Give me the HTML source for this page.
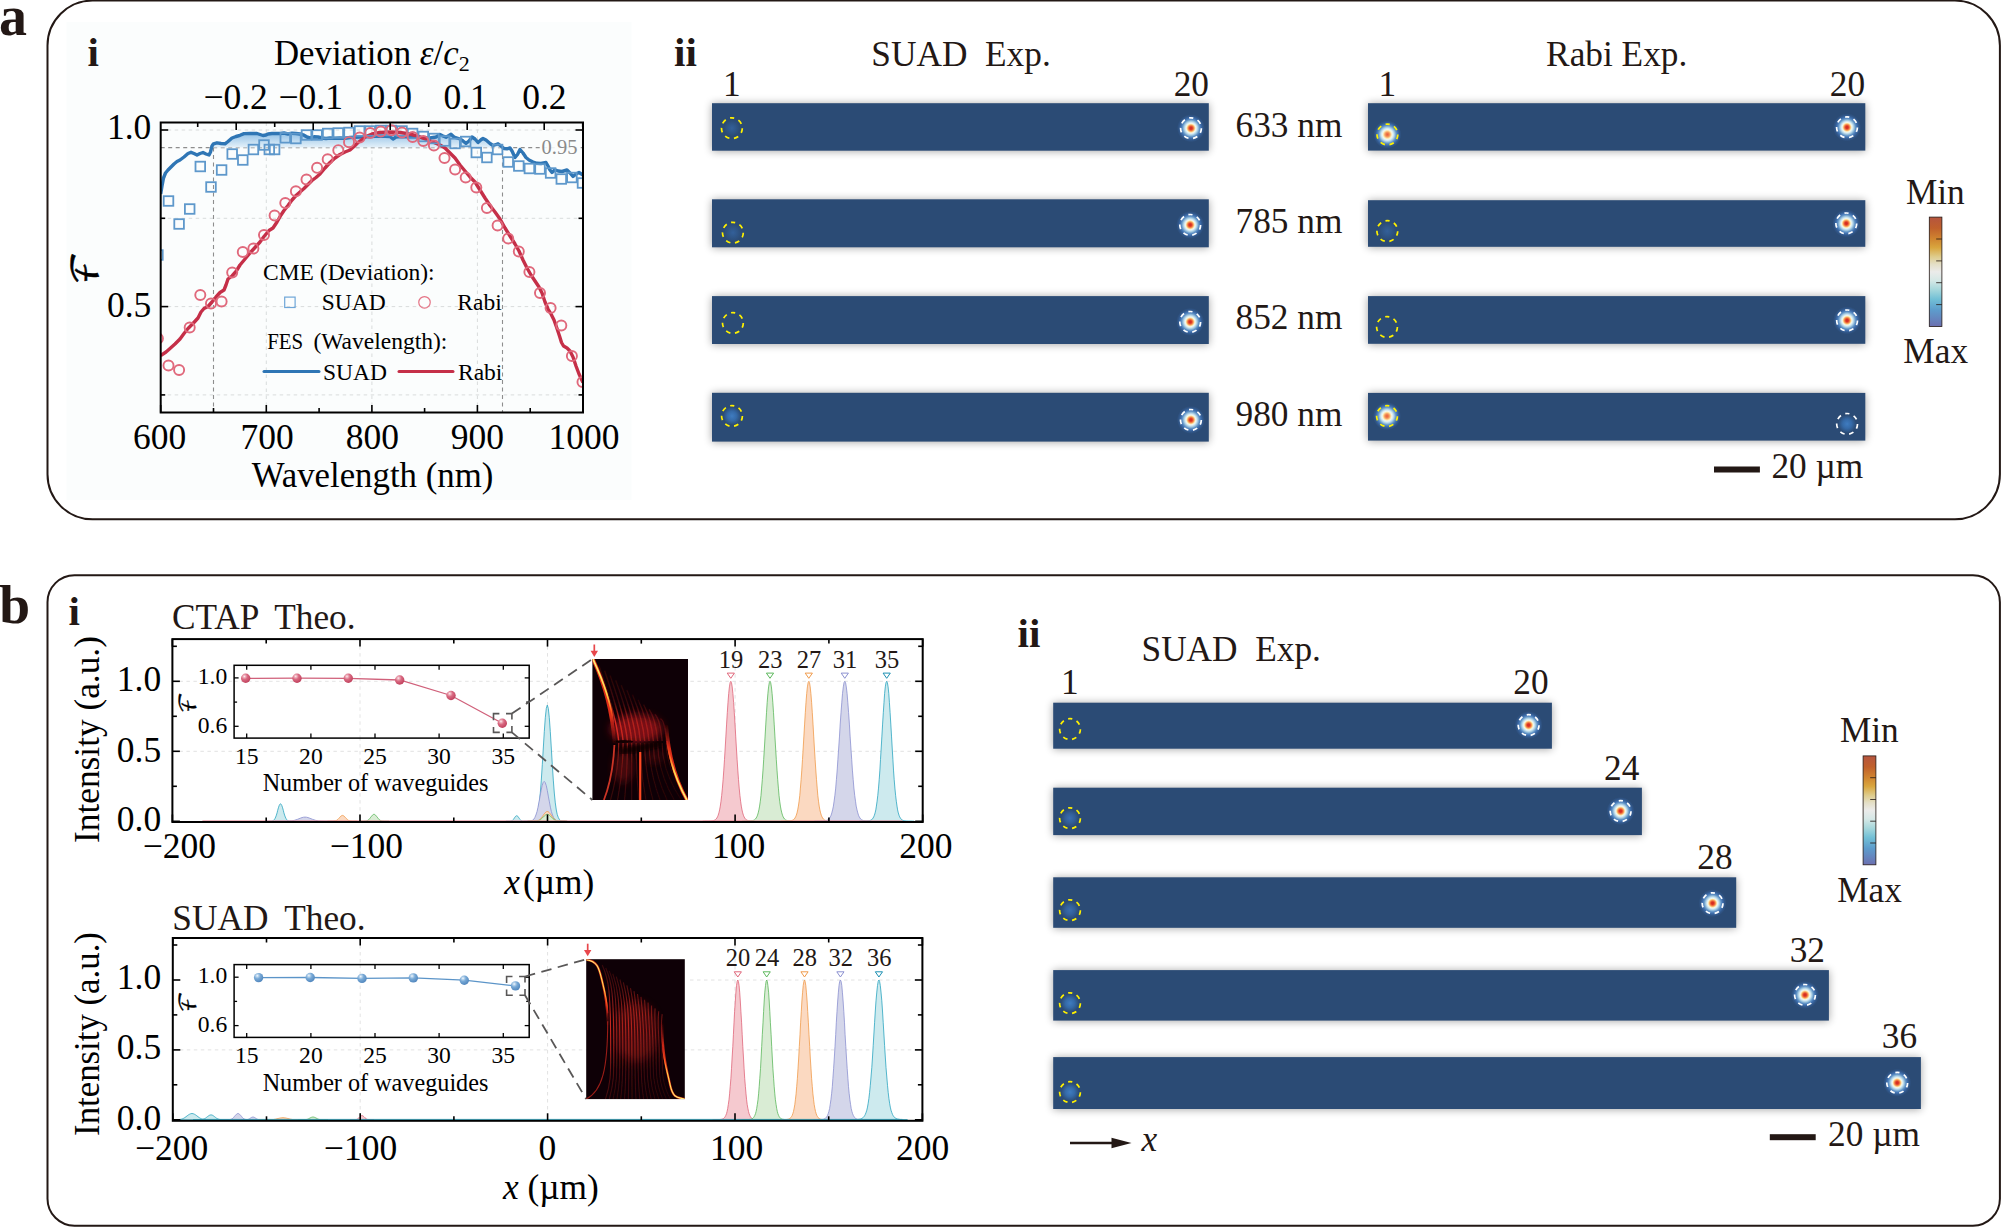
<!DOCTYPE html>
<html><head><meta charset="utf-8"><title>figure</title>
<style>html,body{margin:0;padding:0;background:#fff}svg{display:block}text{font-family:"Liberation Serif", "DejaVu Serif", serif;}</style>
</head><body>
<svg width="2001" height="1227" viewBox="0 0 2001 1227">
<defs>
<filter id="sh" x="-5%" y="-50%" width="110%" height="200%"><feGaussianBlur stdDeviation="4.5"/></filter>
<filter id="b1" x="-20%" y="-20%" width="140%" height="140%"><feGaussianBlur stdDeviation="0.7"/></filter>
<filter id="b2" x="-20%" y="-20%" width="140%" height="140%"><feGaussianBlur stdDeviation="1.6"/></filter>
<filter id="b3" x="-30%" y="-30%" width="160%" height="160%"><feGaussianBlur stdDeviation="4"/></filter>
<radialGradient id="spot"><stop offset="0" stop-color="#d32a22"/><stop offset="0.086" stop-color="#d83324"/><stop offset="0.157" stop-color="#ec6338"/><stop offset="0.229" stop-color="#f9a860"/><stop offset="0.286" stop-color="#fde2a4"/><stop offset="0.343" stop-color="#f1f7ec"/><stop offset="0.414" stop-color="#d3e8f1"/><stop offset="0.5" stop-color="#a0c8e1"/><stop offset="0.607" stop-color="#6294c7"/><stop offset="0.714" stop-color="#4071b0"/><stop offset="0.857" stop-color="#31578a"/><stop offset="1" stop-color="#2b4b75"/></radialGradient>
<radialGradient id="spot2"><stop offset="0" stop-color="#e8603f"/><stop offset="0.1" stop-color="#ee7a4a"/><stop offset="0.19" stop-color="#f7a868"/><stop offset="0.27" stop-color="#fde2a4"/><stop offset="0.343" stop-color="#f1f7ec"/><stop offset="0.43" stop-color="#d3e8f1"/><stop offset="0.52" stop-color="#a0c8e1"/><stop offset="0.63" stop-color="#6294c7"/><stop offset="0.74" stop-color="#4071b0"/><stop offset="0.87" stop-color="#31578a"/><stop offset="1" stop-color="#2b4b75"/></radialGradient>
<radialGradient id="glowA"><stop offset="0" stop-color="#3f7cc0"/><stop offset="0.5" stop-color="#356aa8"/><stop offset="1" stop-color="#2b4b75"/></radialGradient>
<radialGradient id="glowC"><stop offset="0" stop-color="#3a6eb0"/><stop offset="0.5" stop-color="#33609a"/><stop offset="1" stop-color="#2b4b75"/></radialGradient>
<radialGradient id="glowB"><stop offset="0" stop-color="#33609a"/><stop offset="0.5" stop-color="#2f5688"/><stop offset="1" stop-color="#2b4b75"/></radialGradient>
<linearGradient id="cbar" x1="0" y1="0" x2="0" y2="1"><stop offset="0" stop-color="#b5553f"/><stop offset="0.1" stop-color="#c0602c"/><stop offset="0.2" stop-color="#d08530"/><stop offset="0.28" stop-color="#d9a63e"/><stop offset="0.36" stop-color="#decb8a"/><stop offset="0.43" stop-color="#e4dfc6"/><stop offset="0.5" stop-color="#ebebea"/><stop offset="0.58" stop-color="#d5e8e6"/><stop offset="0.66" stop-color="#a8d8dc"/><stop offset="0.75" stop-color="#72c0d6"/><stop offset="0.85" stop-color="#5d9ccc"/><stop offset="0.93" stop-color="#6585be"/><stop offset="1" stop-color="#6c6fb0"/></linearGradient>
<linearGradient id="shade" x1="0" y1="130" x2="0" y2="148" gradientUnits="userSpaceOnUse"><stop offset="0" stop-color="#7fb6e2"/><stop offset="1" stop-color="#e8f3fa"/></linearGradient>
<radialGradient id="ballR" cx="0.36" cy="0.3" r="0.72"><stop offset="0" stop-color="#fdeff2"/><stop offset="0.18" stop-color="#eeb0bc"/><stop offset="0.45" stop-color="#d96a82"/><stop offset="1" stop-color="#c0405c"/></radialGradient>
<radialGradient id="ballB" cx="0.36" cy="0.3" r="0.72"><stop offset="0" stop-color="#f4f9fd"/><stop offset="0.18" stop-color="#b9d4ec"/><stop offset="0.45" stop-color="#78a9d6"/><stop offset="1" stop-color="#5186bd"/></radialGradient>
<linearGradient id="haloA" x1="0" y1="0" x2="0" y2="1"><stop offset="0" stop-color="#ff3a1a"/><stop offset="0.7" stop-color="#f0301a"/><stop offset="1" stop-color="#c01c18" stop-opacity="0.1"/></linearGradient>
<linearGradient id="haloB" x1="0" y1="0" x2="0" y2="1"><stop offset="0" stop-color="#c01c18" stop-opacity="0.1"/><stop offset="0.3" stop-color="#f0301a"/><stop offset="1" stop-color="#ff3a1a"/></linearGradient>
<linearGradient id="hotA" x1="0" y1="0" x2="0" y2="1"><stop offset="0" stop-color="#fff27a"/><stop offset="0.55" stop-color="#ffd84a"/><stop offset="0.8" stop-color="#ff5a1e"/><stop offset="1" stop-color="#b01818"/></linearGradient>
<linearGradient id="hotB" x1="0" y1="0" x2="0" y2="1"><stop offset="0" stop-color="#c01c18"/><stop offset="0.25" stop-color="#ff5a1e"/><stop offset="0.5" stop-color="#ffd84a"/><stop offset="1" stop-color="#fff27a"/></linearGradient>
</defs>
<rect width="2001" height="1227" fill="#fff"/>
<rect x="47.5" y="0.6" width="1952.4" height="518.7" rx="45" ry="45" fill="none" stroke="#231815" stroke-width="2"/>
<rect x="47.5" y="575.2" width="1952.4" height="650.5" rx="27" ry="27" fill="none" stroke="#231815" stroke-width="2"/>
<text x="-1.0" y="34.8" font-size="56" fill="#231815" font-weight="bold">a</text>
<text x="-0.7" y="623.0" font-size="55.5" fill="#231815" font-weight="bold">b</text>
<rect x="66.5" y="22" width="565" height="478" fill="#fbfdfd"/>
<text x="87.5" y="66.0" font-size="41" fill="#231815" font-weight="bold">i</text>
<g id="plotA">
<line x1="160.7" y1="130.0" x2="583.0" y2="130.0" stroke="#d9dcdc" stroke-width="1" stroke-dasharray="3.5 3.5"/>
<line x1="160.7" y1="218.3" x2="583.0" y2="218.3" stroke="#d9dcdc" stroke-width="1" stroke-dasharray="3.5 3.5"/>
<line x1="160.7" y1="306.6" x2="583.0" y2="306.6" stroke="#d9dcdc" stroke-width="1" stroke-dasharray="3.5 3.5"/>
<line x1="160.7" y1="394.9" x2="583.0" y2="394.9" stroke="#d9dcdc" stroke-width="1" stroke-dasharray="3.5 3.5"/>
<line x1="266.3" y1="122.5" x2="266.3" y2="412.5" stroke="#d9dcdc" stroke-width="1" stroke-dasharray="3.5 3.5"/>
<line x1="371.9" y1="122.5" x2="371.9" y2="412.5" stroke="#d9dcdc" stroke-width="1" stroke-dasharray="3.5 3.5"/>
<line x1="477.4" y1="122.5" x2="477.4" y2="412.5" stroke="#d9dcdc" stroke-width="1" stroke-dasharray="3.5 3.5"/>
<line x1="160.7" y1="147.6" x2="583.0" y2="147.6" stroke="#8e8e8e" stroke-width="1.1" stroke-dasharray="4 3.5"/>
<line x1="213.5" y1="147.6" x2="213.5" y2="412.5" stroke="#8e8e8e" stroke-width="1.1" stroke-dasharray="4 3.5"/>
<line x1="502.5" y1="147.6" x2="502.5" y2="412.5" stroke="#8e8e8e" stroke-width="1.1" stroke-dasharray="4 3.5"/>
<polygon points="212.3,147.6 213.5,143.8 217.0,142.8 221.0,143.5 225.0,143.8 228.0,141.5 232.0,138.0 236.0,136.5 240.0,135.3 244.0,133.6 250.0,133.5 257.0,133.5 260.0,134.5 263.0,135.5 266.0,135.0 268.0,134.0 272.0,133.5 280.0,133.5 284.0,133.0 288.0,134.0 292.0,133.2 296.0,133.5 300.0,134.0 304.0,135.2 307.0,137.0 310.0,137.8 314.0,136.8 318.0,137.0 322.0,138.0 326.0,138.5 330.0,138.0 335.0,138.3 340.0,138.0 345.0,138.2 350.0,137.5 360.0,137.0 370.0,136.5 380.0,136.0 390.0,136.5 393.0,139.0 396.0,137.0 400.0,136.5 410.0,136.8 420.0,137.5 430.0,138.0 436.0,137.0 440.0,134.5 443.0,136.0 446.0,137.2 449.0,135.5 451.0,134.3 454.0,137.0 457.0,138.0 460.0,139.0 463.0,141.0 466.0,143.3 469.0,141.0 472.0,137.0 475.0,139.0 478.0,142.5 481.0,139.8 483.0,138.5 486.0,140.0 490.0,143.5 493.0,145.5 496.0,144.5 498.0,143.8 501.0,146.0 503.3,147.6" fill="url(#shade)"/>
<clipPath id="clipA"><rect x="160.7" y="122.5" width="422.3" height="290.0"/></clipPath>
<g clip-path="url(#clipA)">
<polyline points="160.7,194.0 162.0,186.0 163.5,178.0 165.5,173.0 168.0,170.0 171.0,167.0 174.0,164.0 177.0,161.5 180.0,160.0 184.0,157.0 188.0,153.5 191.0,152.3 194.0,153.5 197.0,155.0 200.0,153.5 203.0,152.5 206.0,154.0 209.0,155.0 210.5,152.0 212.0,146.0 213.5,143.8 217.0,142.8 221.0,143.5 225.0,143.8 228.0,141.5 232.0,138.0 236.0,136.5 240.0,135.3 244.0,133.6 250.0,133.5 257.0,133.5 260.0,134.5 263.0,135.5 266.0,135.0 268.0,134.0 272.0,133.5 280.0,133.5 284.0,133.0 288.0,134.0 292.0,133.2 296.0,133.5 300.0,134.0 304.0,135.2 307.0,137.0 310.0,137.8 314.0,136.8 318.0,137.0 322.0,138.0 326.0,138.5 330.0,138.0 335.0,138.3 340.0,138.0 345.0,138.2 350.0,137.5 360.0,137.0 370.0,136.5 380.0,136.0 390.0,136.5 393.0,139.0 396.0,137.0 400.0,136.5 410.0,136.8 420.0,137.5 430.0,138.0 436.0,137.0 440.0,134.5 443.0,136.0 446.0,137.2 449.0,135.5 451.0,134.3 454.0,137.0 457.0,138.0 460.0,139.0 463.0,141.0 466.0,143.3 469.0,141.0 472.0,137.0 475.0,139.0 478.0,142.5 481.0,139.8 483.0,138.5 486.0,140.0 490.0,143.5 493.0,145.5 496.0,144.5 498.0,143.8 501.0,146.0 504.0,148.5 507.0,148.8 510.0,148.0 512.0,151.0 515.0,157.5 517.5,154.5 520.0,149.5 523.0,153.0 526.0,157.5 529.0,160.0 533.0,162.0 537.0,163.3 541.0,163.5 546.0,162.5 548.0,166.0 550.0,170.0 552.0,172.5 555.0,169.8 558.0,171.0 562.0,171.5 567.0,170.0 570.0,173.0 573.0,176.5 576.0,174.0 579.0,172.5 583.0,175.0" fill="none" stroke="#2f76b5" stroke-width="3.4" stroke-linejoin="round"/>
<polyline points="160.7,355.5 166.0,352.0 170.0,348.5 175.0,344.0 180.0,339.0 184.0,333.5 188.0,328.5 193.0,323.5 198.0,318.0 201.0,312.0 204.0,308.5 208.0,306.5 212.0,302.0 216.0,297.0 220.0,292.5 224.0,290.0 226.0,285.0 228.0,279.0 232.0,276.0 236.0,271.5 240.0,265.0 245.0,259.0 250.0,253.0 255.0,247.5 260.0,242.0 264.0,236.5 269.0,230.5 273.0,228.0 277.0,222.0 281.0,215.0 284.0,210.5 288.0,205.5 292.0,200.0 296.0,195.5 300.0,192.0 304.0,188.5 308.0,184.5 312.0,180.5 316.0,177.5 320.0,174.0 325.0,168.0 330.0,162.5 335.0,158.0 340.0,154.5 345.0,152.0 350.0,150.0 354.0,146.5 358.0,142.5 362.0,139.5 366.0,136.5 372.0,134.0 380.0,132.5 390.0,132.0 400.0,132.5 410.0,134.0 420.0,137.0 430.0,141.0 440.0,145.0 445.0,148.0 450.0,153.0 455.0,158.0 460.0,165.0 465.0,171.0 470.0,177.0 475.0,182.0 480.0,190.0 485.0,198.0 490.0,205.5 495.0,212.0 500.0,219.0 505.0,228.0 510.0,236.0 515.0,244.0 519.0,251.0 523.0,260.0 527.0,268.0 531.0,275.0 535.0,281.0 539.0,287.0 542.0,293.0 545.0,302.0 548.0,309.0 551.0,314.0 554.0,320.0 557.0,328.5 559.5,336.0 561.5,342.5 563.5,346.0 567.0,348.0 570.0,351.0 573.0,357.0 576.0,366.0 579.0,374.0 583.0,382.5" fill="none" stroke="#c52f48" stroke-width="3.4" stroke-linejoin="round"/>
<rect x="153.1" y="250.2" width="9.6" height="9.6" fill="none" stroke="#5e98cb" stroke-width="1.8"/>
<rect x="163.7" y="196.2" width="9.6" height="9.6" fill="none" stroke="#5e98cb" stroke-width="1.8"/>
<rect x="174.3" y="219.2" width="9.6" height="9.6" fill="none" stroke="#5e98cb" stroke-width="1.8"/>
<rect x="184.9" y="204.2" width="9.6" height="9.6" fill="none" stroke="#5e98cb" stroke-width="1.8"/>
<rect x="195.5" y="161.7" width="9.6" height="9.6" fill="none" stroke="#5e98cb" stroke-width="1.8"/>
<rect x="206.2" y="182.2" width="9.6" height="9.6" fill="none" stroke="#5e98cb" stroke-width="1.8"/>
<rect x="216.8" y="165.2" width="9.6" height="9.6" fill="none" stroke="#5e98cb" stroke-width="1.8"/>
<rect x="227.4" y="149.2" width="9.6" height="9.6" fill="none" stroke="#5e98cb" stroke-width="1.8"/>
<rect x="238.0" y="155.2" width="9.6" height="9.6" fill="none" stroke="#5e98cb" stroke-width="1.8"/>
<rect x="248.6" y="144.7" width="9.6" height="9.6" fill="none" stroke="#5e98cb" stroke-width="1.8"/>
<rect x="259.2" y="140.2" width="9.6" height="9.6" fill="none" stroke="#5e98cb" stroke-width="1.8"/>
<rect x="264.5" y="144.7" width="9.6" height="9.6" fill="none" stroke="#5e98cb" stroke-width="1.8"/>
<rect x="269.8" y="144.7" width="9.6" height="9.6" fill="none" stroke="#5e98cb" stroke-width="1.8"/>
<rect x="280.5" y="133.0" width="9.6" height="9.6" fill="none" stroke="#5e98cb" stroke-width="1.8"/>
<rect x="291.1" y="133.7" width="9.6" height="9.6" fill="none" stroke="#5e98cb" stroke-width="1.8"/>
<rect x="301.7" y="130.2" width="9.6" height="9.6" fill="none" stroke="#5e98cb" stroke-width="1.8"/>
<rect x="312.3" y="130.2" width="9.6" height="9.6" fill="none" stroke="#5e98cb" stroke-width="1.8"/>
<rect x="322.9" y="128.7" width="9.6" height="9.6" fill="none" stroke="#5e98cb" stroke-width="1.8"/>
<rect x="333.5" y="128.2" width="9.6" height="9.6" fill="none" stroke="#5e98cb" stroke-width="1.8"/>
<rect x="344.2" y="127.7" width="9.6" height="9.6" fill="none" stroke="#5e98cb" stroke-width="1.8"/>
<rect x="354.8" y="126.2" width="9.6" height="9.6" fill="none" stroke="#5e98cb" stroke-width="1.8"/>
<rect x="365.4" y="126.2" width="9.6" height="9.6" fill="none" stroke="#5e98cb" stroke-width="1.8"/>
<rect x="376.0" y="125.7" width="9.6" height="9.6" fill="none" stroke="#5e98cb" stroke-width="1.8"/>
<rect x="386.6" y="125.7" width="9.6" height="9.6" fill="none" stroke="#5e98cb" stroke-width="1.8"/>
<rect x="397.2" y="126.2" width="9.6" height="9.6" fill="none" stroke="#5e98cb" stroke-width="1.8"/>
<rect x="407.8" y="128.7" width="9.6" height="9.6" fill="none" stroke="#5e98cb" stroke-width="1.8"/>
<rect x="418.5" y="131.7" width="9.6" height="9.6" fill="none" stroke="#5e98cb" stroke-width="1.8"/>
<rect x="429.1" y="133.7" width="9.6" height="9.6" fill="none" stroke="#5e98cb" stroke-width="1.8"/>
<rect x="439.7" y="136.2" width="9.6" height="9.6" fill="none" stroke="#5e98cb" stroke-width="1.8"/>
<rect x="450.3" y="138.7" width="9.6" height="9.6" fill="none" stroke="#5e98cb" stroke-width="1.8"/>
<rect x="460.9" y="136.7" width="9.6" height="9.6" fill="none" stroke="#5e98cb" stroke-width="1.8"/>
<rect x="471.5" y="147.7" width="9.6" height="9.6" fill="none" stroke="#5e98cb" stroke-width="1.8"/>
<rect x="482.1" y="152.7" width="9.6" height="9.6" fill="none" stroke="#5e98cb" stroke-width="1.8"/>
<rect x="492.8" y="144.7" width="9.6" height="9.6" fill="none" stroke="#5e98cb" stroke-width="1.8"/>
<rect x="503.4" y="157.2" width="9.6" height="9.6" fill="none" stroke="#5e98cb" stroke-width="1.8"/>
<rect x="514.0" y="161.2" width="9.6" height="9.6" fill="none" stroke="#5e98cb" stroke-width="1.8"/>
<rect x="524.6" y="163.7" width="9.6" height="9.6" fill="none" stroke="#5e98cb" stroke-width="1.8"/>
<rect x="535.2" y="164.2" width="9.6" height="9.6" fill="none" stroke="#5e98cb" stroke-width="1.8"/>
<rect x="545.8" y="168.2" width="9.6" height="9.6" fill="none" stroke="#5e98cb" stroke-width="1.8"/>
<rect x="556.5" y="174.2" width="9.6" height="9.6" fill="none" stroke="#5e98cb" stroke-width="1.8"/>
<rect x="567.1" y="172.7" width="9.6" height="9.6" fill="none" stroke="#5e98cb" stroke-width="1.8"/>
<rect x="577.7" y="178.2" width="9.6" height="9.6" fill="none" stroke="#5e98cb" stroke-width="1.8"/>
<circle cx="157.9" cy="338.5" r="5.05" fill="none" stroke="#e0697c" stroke-width="1.9"/>
<circle cx="168.5" cy="365.5" r="5.05" fill="none" stroke="#e0697c" stroke-width="1.9"/>
<circle cx="179.1" cy="370.0" r="5.05" fill="none" stroke="#e0697c" stroke-width="1.9"/>
<circle cx="189.7" cy="327.5" r="5.05" fill="none" stroke="#e0697c" stroke-width="1.9"/>
<circle cx="200.3" cy="295.0" r="5.05" fill="none" stroke="#e0697c" stroke-width="1.9"/>
<circle cx="211.0" cy="303.5" r="5.05" fill="none" stroke="#e0697c" stroke-width="1.9"/>
<circle cx="221.6" cy="301.5" r="5.05" fill="none" stroke="#e0697c" stroke-width="1.9"/>
<circle cx="232.2" cy="272.5" r="5.05" fill="none" stroke="#e0697c" stroke-width="1.9"/>
<circle cx="242.8" cy="252.0" r="5.05" fill="none" stroke="#e0697c" stroke-width="1.9"/>
<circle cx="253.4" cy="248.5" r="5.05" fill="none" stroke="#e0697c" stroke-width="1.9"/>
<circle cx="264.0" cy="235.0" r="5.05" fill="none" stroke="#e0697c" stroke-width="1.9"/>
<circle cx="274.6" cy="215.5" r="5.05" fill="none" stroke="#e0697c" stroke-width="1.9"/>
<circle cx="285.3" cy="203.0" r="5.05" fill="none" stroke="#e0697c" stroke-width="1.9"/>
<circle cx="295.9" cy="191.3" r="5.05" fill="none" stroke="#e0697c" stroke-width="1.9"/>
<circle cx="306.5" cy="179.5" r="5.05" fill="none" stroke="#e0697c" stroke-width="1.9"/>
<circle cx="317.1" cy="167.8" r="5.05" fill="none" stroke="#e0697c" stroke-width="1.9"/>
<circle cx="327.7" cy="159.3" r="5.05" fill="none" stroke="#e0697c" stroke-width="1.9"/>
<circle cx="338.3" cy="150.2" r="5.05" fill="none" stroke="#e0697c" stroke-width="1.9"/>
<circle cx="349.0" cy="142.2" r="5.05" fill="none" stroke="#e0697c" stroke-width="1.9"/>
<circle cx="359.6" cy="137.6" r="5.05" fill="none" stroke="#e0697c" stroke-width="1.9"/>
<circle cx="370.2" cy="133.0" r="5.05" fill="none" stroke="#e0697c" stroke-width="1.9"/>
<circle cx="380.8" cy="131.6" r="5.05" fill="none" stroke="#e0697c" stroke-width="1.9"/>
<circle cx="391.4" cy="130.3" r="5.05" fill="none" stroke="#e0697c" stroke-width="1.9"/>
<circle cx="402.0" cy="132.5" r="5.05" fill="none" stroke="#e0697c" stroke-width="1.9"/>
<circle cx="412.6" cy="137.0" r="5.05" fill="none" stroke="#e0697c" stroke-width="1.9"/>
<circle cx="423.3" cy="141.0" r="5.05" fill="none" stroke="#e0697c" stroke-width="1.9"/>
<circle cx="433.9" cy="145.5" r="5.05" fill="none" stroke="#e0697c" stroke-width="1.9"/>
<circle cx="444.5" cy="158.0" r="5.05" fill="none" stroke="#e0697c" stroke-width="1.9"/>
<circle cx="455.1" cy="169.5" r="5.05" fill="none" stroke="#e0697c" stroke-width="1.9"/>
<circle cx="465.7" cy="177.5" r="5.05" fill="none" stroke="#e0697c" stroke-width="1.9"/>
<circle cx="476.3" cy="187.5" r="5.05" fill="none" stroke="#e0697c" stroke-width="1.9"/>
<circle cx="486.9" cy="208.0" r="5.05" fill="none" stroke="#e0697c" stroke-width="1.9"/>
<circle cx="497.6" cy="225.5" r="5.05" fill="none" stroke="#e0697c" stroke-width="1.9"/>
<circle cx="508.2" cy="238.5" r="5.05" fill="none" stroke="#e0697c" stroke-width="1.9"/>
<circle cx="518.8" cy="251.5" r="5.05" fill="none" stroke="#e0697c" stroke-width="1.9"/>
<circle cx="529.4" cy="272.0" r="5.05" fill="none" stroke="#e0697c" stroke-width="1.9"/>
<circle cx="540.0" cy="293.0" r="5.05" fill="none" stroke="#e0697c" stroke-width="1.9"/>
<circle cx="550.6" cy="308.0" r="5.05" fill="none" stroke="#e0697c" stroke-width="1.9"/>
<circle cx="561.3" cy="325.5" r="5.05" fill="none" stroke="#e0697c" stroke-width="1.9"/>
<circle cx="571.9" cy="356.0" r="5.05" fill="none" stroke="#e0697c" stroke-width="1.9"/>
<circle cx="582.5" cy="382.0" r="5.05" fill="none" stroke="#e0697c" stroke-width="1.9"/>
</g>
<line x1="160.7" y1="412.5" x2="160.7" y2="405.0" stroke="#000" stroke-width="1.6" />
<line x1="266.3" y1="412.5" x2="266.3" y2="405.0" stroke="#000" stroke-width="1.6" />
<line x1="371.9" y1="412.5" x2="371.9" y2="405.0" stroke="#000" stroke-width="1.6" />
<line x1="477.4" y1="412.5" x2="477.4" y2="405.0" stroke="#000" stroke-width="1.6" />
<line x1="583.0" y1="412.5" x2="583.0" y2="405.0" stroke="#000" stroke-width="1.6" />
<line x1="213.5" y1="412.5" x2="213.5" y2="408.0" stroke="#000" stroke-width="1.6" />
<line x1="319.1" y1="412.5" x2="319.1" y2="408.0" stroke="#000" stroke-width="1.6" />
<line x1="424.6" y1="412.5" x2="424.6" y2="408.0" stroke="#000" stroke-width="1.6" />
<line x1="530.2" y1="412.5" x2="530.2" y2="408.0" stroke="#000" stroke-width="1.6" />
<line x1="197.7" y1="122.5" x2="197.7" y2="127.0" stroke="#000" stroke-width="1.6" />
<line x1="236.2" y1="122.5" x2="236.2" y2="130.0" stroke="#000" stroke-width="1.6" />
<line x1="274.7" y1="122.5" x2="274.7" y2="127.0" stroke="#000" stroke-width="1.6" />
<line x1="313.2" y1="122.5" x2="313.2" y2="130.0" stroke="#000" stroke-width="1.6" />
<line x1="351.7" y1="122.5" x2="351.7" y2="127.0" stroke="#000" stroke-width="1.6" />
<line x1="390.2" y1="122.5" x2="390.2" y2="130.0" stroke="#000" stroke-width="1.6" />
<line x1="428.7" y1="122.5" x2="428.7" y2="127.0" stroke="#000" stroke-width="1.6" />
<line x1="467.2" y1="122.5" x2="467.2" y2="130.0" stroke="#000" stroke-width="1.6" />
<line x1="505.7" y1="122.5" x2="505.7" y2="127.0" stroke="#000" stroke-width="1.6" />
<line x1="544.2" y1="122.5" x2="544.2" y2="130.0" stroke="#000" stroke-width="1.6" />
<line x1="582.7" y1="122.5" x2="582.7" y2="127.0" stroke="#000" stroke-width="1.6" />
<line x1="160.7" y1="130.0" x2="168.2" y2="130.0" stroke="#000" stroke-width="1.6" />
<line x1="583.0" y1="130.0" x2="575.5" y2="130.0" stroke="#000" stroke-width="1.6" />
<line x1="160.7" y1="218.3" x2="165.2" y2="218.3" stroke="#000" stroke-width="1.6" />
<line x1="583.0" y1="218.3" x2="578.5" y2="218.3" stroke="#000" stroke-width="1.6" />
<line x1="160.7" y1="306.6" x2="168.2" y2="306.6" stroke="#000" stroke-width="1.6" />
<line x1="583.0" y1="306.6" x2="575.5" y2="306.6" stroke="#000" stroke-width="1.6" />
<line x1="160.7" y1="394.9" x2="165.2" y2="394.9" stroke="#000" stroke-width="1.6" />
<line x1="583.0" y1="394.9" x2="578.5" y2="394.9" stroke="#000" stroke-width="1.6" />
<rect x="160.7" y="122.5" width="422.3" height="290.0" fill="none" stroke="#000" stroke-width="2"/>
<rect x="540.5" y="138" width="38" height="18" fill="#fbfdfd" opacity="0.9"/>
<text x="559.5" y="153.5" font-size="20.5" fill="#8a8a8a" text-anchor="middle">0.95</text>
<text x="235.6" y="109.3" font-size="35.5" fill="#000" text-anchor="middle">−0.2</text>
<text x="310.8" y="109.3" font-size="35.5" fill="#000" text-anchor="middle">−0.1</text>
<text x="389.8" y="109.3" font-size="35.5" fill="#000" text-anchor="middle">0.0</text>
<text x="465.6" y="109.3" font-size="35.5" fill="#000" text-anchor="middle">0.1</text>
<text x="544.4" y="109.3" font-size="35.5" fill="#000" text-anchor="middle">0.2</text>
<text x="371.8" y="64.7" font-size="34.8" fill="#000" text-anchor="middle">Deviation <tspan font-style="italic">ε</tspan>/<tspan font-style="italic">c</tspan><tspan font-size="22" dy="6.4">2</tspan></text>
<text x="159.5" y="449.0" font-size="35.5" fill="#000" text-anchor="middle">600</text>
<text x="267.0" y="449.0" font-size="35.5" fill="#000" text-anchor="middle">700</text>
<text x="372.3" y="449.0" font-size="35.5" fill="#000" text-anchor="middle">800</text>
<text x="477.3" y="449.0" font-size="35.5" fill="#000" text-anchor="middle">900</text>
<text x="584.0" y="449.0" font-size="35.5" fill="#000" text-anchor="middle">1000</text>
<text x="372.5" y="487.2" font-size="34.8" fill="#000" text-anchor="middle">Wavelength (nm)</text>
<text x="151.3" y="139.0" font-size="35.5" fill="#000" text-anchor="end">1.0</text>
<text x="151.3" y="316.5" font-size="35.5" fill="#000" text-anchor="end">0.5</text>
<text transform="translate(98.3,268) rotate(-90)" font-size="36" text-anchor="middle" style='font-family:"DejaVu Math TeX Gyre","DejaVu Sans",sans-serif' fill="#000" stroke="#000" stroke-width="0.6">ℱ</text>
<text x="263.0" y="280.2" font-size="23.5" fill="#000">CME (Deviation):</text>
<rect x="284.7" y="297.1" width="10.4" height="10.4" fill="none" stroke="#6ea6d8" stroke-width="1.2"/>
<text x="321.7" y="310.1" font-size="23.5" fill="#000">SUAD</text>
<circle cx="424.5" cy="302.3" r="5.75" fill="none" stroke="#e57486" stroke-width="1.2"/>
<text x="457.3" y="310.1" font-size="23.5" fill="#000">Rabi</text>
<text transform="translate(267.2,348.6) scale(0.89,1)" font-size="23.5" fill="#000">FES</text>
<text x="313.5" y="348.6" font-size="23.5" fill="#000">(Wavelength):</text>
<line x1="264.0" y1="371.5" x2="319.0" y2="371.5" stroke="#2f76b5" stroke-width="3" stroke-linecap="round"/>
<text x="323.0" y="379.6" font-size="23.5" fill="#000">SUAD</text>
<line x1="399.0" y1="371.5" x2="453.0" y2="371.5" stroke="#c52f48" stroke-width="3" stroke-linecap="round"/>
<text x="458.0" y="379.6" font-size="23.5" fill="#000">Rabi</text>
</g>
<text x="674.0" y="65.5" font-size="41" fill="#231815" font-weight="bold">ii</text>
<text x="961.0" y="66.2" font-size="35.3" fill="#231815" text-anchor="middle">SUAD  Exp.</text>
<text x="1616.7" y="65.8" font-size="35.3" fill="#231815" text-anchor="middle">Rabi Exp.</text>
<text x="731.8" y="95.9" font-size="35.3" fill="#231815" text-anchor="middle">1</text>
<text x="1191.3" y="95.9" font-size="35.3" fill="#231815" text-anchor="middle">20</text>
<text x="1387.3" y="95.9" font-size="35.3" fill="#231815" text-anchor="middle">1</text>
<text x="1847.5" y="95.5" font-size="35.3" fill="#231815" text-anchor="middle">20</text>
<rect x="712.0" y="103.7" width="496.8" height="47.5" fill="#000" opacity="0.36" filter="url(#sh)"/>
<rect x="712.0" y="103.2" width="496.8" height="47.5" fill="#2b4b75"/>
<rect x="1368.0" y="103.7" width="497.3" height="47.4" fill="#000" opacity="0.36" filter="url(#sh)"/>
<rect x="1368.0" y="103.2" width="497.3" height="47.4" fill="#2b4b75"/>
<rect x="712.0" y="199.8" width="496.8" height="48.0" fill="#000" opacity="0.36" filter="url(#sh)"/>
<rect x="712.0" y="199.3" width="496.8" height="48.0" fill="#2b4b75"/>
<rect x="1368.0" y="200.7" width="497.3" height="46.6" fill="#000" opacity="0.36" filter="url(#sh)"/>
<rect x="1368.0" y="200.2" width="497.3" height="46.6" fill="#2b4b75"/>
<rect x="712.0" y="296.6" width="496.8" height="47.9" fill="#000" opacity="0.36" filter="url(#sh)"/>
<rect x="712.0" y="296.1" width="496.8" height="47.9" fill="#2b4b75"/>
<rect x="1368.0" y="296.6" width="497.3" height="47.7" fill="#000" opacity="0.36" filter="url(#sh)"/>
<rect x="1368.0" y="296.1" width="497.3" height="47.7" fill="#2b4b75"/>
<rect x="712.0" y="393.3" width="496.8" height="48.8" fill="#000" opacity="0.36" filter="url(#sh)"/>
<rect x="712.0" y="392.8" width="496.8" height="48.8" fill="#2b4b75"/>
<rect x="1368.0" y="393.4" width="497.3" height="47.7" fill="#000" opacity="0.36" filter="url(#sh)"/>
<rect x="1368.0" y="392.9" width="497.3" height="47.7" fill="#2b4b75"/>
<circle cx="1191.0" cy="128.2" r="14.0" fill="url(#spot)"/>
<circle cx="1190.2" cy="224.9" r="14.0" fill="url(#spot)"/>
<circle cx="1190.2" cy="321.9" r="14.0" fill="url(#spot)"/>
<circle cx="1190.9" cy="419.9" r="14.0" fill="url(#spot)"/>
<circle cx="732.9" cy="232.7" r="9" fill="url(#glowB)"/>
<circle cx="732.0" cy="416.0" r="9" fill="url(#glowA)"/>
<circle cx="1387.4" cy="134.5" r="14.0" fill="url(#spot2)"/>
<circle cx="1387.0" cy="416.1" r="14.0" fill="url(#spot2)"/>
<circle cx="1847.0" cy="127.3" r="14.0" fill="url(#spot)"/>
<circle cx="1846.3" cy="223.4" r="14.0" fill="url(#spot)"/>
<circle cx="1847.1" cy="320.4" r="14.0" fill="url(#spot)"/>
<circle cx="1847.1" cy="423.9" r="9" fill="url(#glowA)"/>
<circle cx="1387.3" cy="231.1" r="9" fill="url(#glowB)"/>
<circle cx="731.9" cy="128.2" r="8" fill="url(#glowB)"/>
<circle cx="731.9" cy="128.2" r="10.4" fill="none" stroke="#fff100" stroke-width="1.7" stroke-dasharray="4.67 4.67" stroke-dashoffset="2.33" transform="rotate(-90 731.9 128.2)"/>
<circle cx="1191.0" cy="128.2" r="10.4" fill="none" stroke="#ffffff" stroke-width="1.7" stroke-dasharray="4.67 4.67" stroke-dashoffset="2.33" transform="rotate(-90 1191.0 128.2)"/>
<circle cx="1387.4" cy="134.5" r="10.4" fill="none" stroke="#fff100" stroke-width="1.7" stroke-dasharray="4.67 4.67" stroke-dashoffset="2.33" transform="rotate(-90 1387.4 134.5)"/>
<circle cx="1847.0" cy="127.3" r="10.4" fill="none" stroke="#ffffff" stroke-width="1.7" stroke-dasharray="4.67 4.67" stroke-dashoffset="2.33" transform="rotate(-90 1847.0 127.3)"/>
<circle cx="732.9" cy="232.7" r="10.4" fill="none" stroke="#fff100" stroke-width="1.7" stroke-dasharray="4.67 4.67" stroke-dashoffset="2.33" transform="rotate(-90 732.9 232.7)"/>
<circle cx="1190.2" cy="224.9" r="10.4" fill="none" stroke="#ffffff" stroke-width="1.7" stroke-dasharray="4.67 4.67" stroke-dashoffset="2.33" transform="rotate(-90 1190.2 224.9)"/>
<circle cx="1387.3" cy="231.1" r="10.4" fill="none" stroke="#fff100" stroke-width="1.7" stroke-dasharray="4.67 4.67" stroke-dashoffset="2.33" transform="rotate(-90 1387.3 231.1)"/>
<circle cx="1846.3" cy="223.4" r="10.4" fill="none" stroke="#ffffff" stroke-width="1.7" stroke-dasharray="4.67 4.67" stroke-dashoffset="2.33" transform="rotate(-90 1846.3 223.4)"/>
<circle cx="732.9" cy="323.0" r="10.4" fill="none" stroke="#fff100" stroke-width="1.7" stroke-dasharray="4.67 4.67" stroke-dashoffset="2.33" transform="rotate(-90 732.9 323.0)"/>
<circle cx="1190.2" cy="321.9" r="10.4" fill="none" stroke="#ffffff" stroke-width="1.7" stroke-dasharray="4.67 4.67" stroke-dashoffset="2.33" transform="rotate(-90 1190.2 321.9)"/>
<circle cx="1387.0" cy="327.0" r="10.4" fill="none" stroke="#fff100" stroke-width="1.7" stroke-dasharray="4.67 4.67" stroke-dashoffset="2.33" transform="rotate(-90 1387.0 327.0)"/>
<circle cx="1847.1" cy="320.4" r="10.4" fill="none" stroke="#ffffff" stroke-width="1.7" stroke-dasharray="4.67 4.67" stroke-dashoffset="2.33" transform="rotate(-90 1847.1 320.4)"/>
<circle cx="732.0" cy="416.0" r="10.4" fill="none" stroke="#fff100" stroke-width="1.7" stroke-dasharray="4.67 4.67" stroke-dashoffset="2.33" transform="rotate(-90 732.0 416.0)"/>
<circle cx="1190.9" cy="419.9" r="10.4" fill="none" stroke="#ffffff" stroke-width="1.7" stroke-dasharray="4.67 4.67" stroke-dashoffset="2.33" transform="rotate(-90 1190.9 419.9)"/>
<circle cx="1387.0" cy="416.1" r="10.4" fill="none" stroke="#fff100" stroke-width="1.7" stroke-dasharray="4.67 4.67" stroke-dashoffset="2.33" transform="rotate(-90 1387.0 416.1)"/>
<circle cx="1847.1" cy="423.9" r="10.4" fill="none" stroke="#ffffff" stroke-width="1.7" stroke-dasharray="4.67 4.67" stroke-dashoffset="2.33" transform="rotate(-90 1847.1 423.9)"/>
<text x="1289.0" y="136.9" font-size="35.3" fill="#231815" text-anchor="middle">633 nm</text>
<text x="1289.0" y="232.8" font-size="35.3" fill="#231815" text-anchor="middle">785 nm</text>
<text x="1289.0" y="328.7" font-size="35.3" fill="#231815" text-anchor="middle">852 nm</text>
<text x="1289.0" y="426.3" font-size="35.3" fill="#231815" text-anchor="middle">980 nm</text>
<text x="1935.3" y="204.4" font-size="35.3" fill="#231815" text-anchor="middle">Min</text>
<rect x="1929.3" y="217.1" width="12.6" height="109.4" fill="url(#cbar)" stroke="#231815" stroke-width="0.8"/>
<line x1="1936.2" y1="239.0" x2="1941.9" y2="239.0" stroke="#231815" stroke-width="0.8" />
<line x1="1936.2" y1="260.9" x2="1941.9" y2="260.9" stroke="#231815" stroke-width="0.8" />
<line x1="1936.2" y1="282.7" x2="1941.9" y2="282.7" stroke="#231815" stroke-width="0.8" />
<line x1="1936.2" y1="304.6" x2="1941.9" y2="304.6" stroke="#231815" stroke-width="0.8" />
<text x="1935.7" y="363.1" font-size="35.3" fill="#231815" text-anchor="middle">Max</text>
<rect x="1714" y="466.5" width="45.9" height="6" fill="#231815"/>
<text x="1863.3" y="478.1" font-size="35.3" fill="#231815" text-anchor="end">20 µm</text>
<text x="68.5" y="625.2" font-size="41" fill="#231815" font-weight="bold">i</text>
<text x="172.0" y="629.0" font-size="35.3" fill="#231815">CTAP</text>
<text x="274.2" y="629.0" font-size="35.3" fill="#231815">Theo.</text>
<text x="172.3" y="929.6" font-size="35.3" fill="#231815">SUAD</text>
<text x="284.2" y="929.6" font-size="35.3" fill="#231815">Theo.</text>
<line x1="172.4" y1="751.3" x2="922.7" y2="751.3" stroke="#e2e2e2" stroke-width="1" stroke-dasharray="3.5 3.5"/>
<line x1="172.4" y1="681.3" x2="922.7" y2="681.3" stroke="#e2e2e2" stroke-width="1" stroke-dasharray="3.5 3.5"/>
<line x1="360.0" y1="639.1" x2="360.0" y2="822.0" stroke="#e2e2e2" stroke-width="1" stroke-dasharray="3.5 3.5"/>
<line x1="547.5" y1="639.1" x2="547.5" y2="822.0" stroke="#e2e2e2" stroke-width="1" stroke-dasharray="3.5 3.5"/>
<line x1="735.1" y1="639.1" x2="735.1" y2="822.0" stroke="#e2e2e2" stroke-width="1" stroke-dasharray="3.5 3.5"/>
<clipPath id="cp639"><rect x="172.4" y="639.1" width="750.3" height="182.9"/></clipPath>
<g clip-path="url(#cp639)">
<polygon points="266.7,821.3 267.4,821.3 268.1,821.3 268.8,821.3 269.5,821.3 270.1,821.3 270.8,821.2 271.5,821.2 272.2,821.0 272.9,820.8 273.6,820.3 274.3,819.6 275.0,818.5 275.7,817.0 276.4,815.1 277.1,812.8 277.7,810.3 278.4,807.8 279.1,805.7 279.8,804.3 280.5,803.8 281.2,804.3 281.9,805.7 282.6,807.8 283.3,810.3 283.9,812.8 284.6,815.1 285.3,817.0 286.0,818.5 286.7,819.6 287.4,820.3 288.1,820.8 288.8,821.0 289.5,821.2 290.2,821.2 290.9,821.3 291.5,821.3 292.2,821.3 292.9,821.3 293.6,821.3 294.3,821.3" fill="#cdeaee" stroke="#2ba5c0" stroke-width="0.8" stroke-linejoin="round"/>
<polygon points="275.0,821.3 276.5,821.3 278.0,821.3 279.5,821.3 281.0,821.3 282.5,821.3 284.0,821.3 285.5,821.3 287.0,821.2 288.5,821.2 290.0,821.1 291.5,820.9 293.0,820.6 294.5,820.3 296.0,819.8 297.5,819.3 299.0,818.7 300.5,818.1 302.0,817.6 303.5,817.2 305.0,817.1 306.5,817.2 308.0,817.6 309.5,818.1 311.0,818.7 312.5,819.3 314.0,819.8 315.5,820.3 317.0,820.6 318.5,820.9 320.0,821.1 321.5,821.2 323.0,821.2 324.5,821.3 326.0,821.3 327.5,821.3 329.0,821.3 330.5,821.3 332.0,821.3 333.5,821.3 335.0,821.3" fill="#d4d6ea" stroke="#8b90d0" stroke-width="0.8" stroke-linejoin="round"/>
<polygon points="327.5,821.3 328.2,821.3 329.0,821.3 329.8,821.3 330.5,821.3 331.2,821.3 332.0,821.3 332.8,821.3 333.5,821.2 334.2,821.1 335.0,821.0 335.8,820.7 336.5,820.4 337.2,819.9 338.0,819.2 338.8,818.4 339.5,817.6 340.2,816.8 341.0,816.1 341.8,815.6 342.5,815.4 343.2,815.6 344.0,816.1 344.8,816.8 345.5,817.6 346.2,818.4 347.0,819.2 347.8,819.9 348.5,820.4 349.2,820.7 350.0,821.0 350.8,821.1 351.5,821.2 352.2,821.3 353.0,821.3 353.8,821.3 354.5,821.3 355.2,821.3 356.0,821.3 356.8,821.3 357.5,821.3" fill="#fbd9c1" stroke="#f09a4a" stroke-width="0.8" stroke-linejoin="round"/>
<polygon points="359.0,821.3 359.8,821.3 360.5,821.3 361.2,821.3 362.0,821.3 362.8,821.3 363.5,821.3 364.2,821.2 365.0,821.2 365.8,821.1 366.5,820.9 367.2,820.6 368.0,820.2 368.8,819.6 369.5,818.8 370.2,817.9 371.0,816.9 371.8,815.9 372.5,815.1 373.2,814.5 374.0,814.3 374.8,814.5 375.5,815.1 376.2,815.9 377.0,816.9 377.8,817.9 378.5,818.8 379.2,819.6 380.0,820.2 380.8,820.6 381.5,820.9 382.2,821.1 383.0,821.2 383.8,821.2 384.5,821.3 385.2,821.3 386.0,821.3 386.8,821.3 387.5,821.3 388.2,821.3 389.0,821.3" fill="#d9ecd4" stroke="#5cb85c" stroke-width="0.8" stroke-linejoin="round"/>
<polygon points="505.9,821.3 506.4,821.3 507.0,821.3 507.5,821.3 508.1,821.3 508.6,821.3 509.1,821.3 509.7,821.3 510.2,821.2 510.8,821.1 511.3,821.0 511.8,820.8 512.4,820.4 512.9,819.9 513.5,819.3 514.0,818.6 514.5,817.8 515.1,817.0 515.6,816.3 516.2,815.9 516.7,815.7 517.2,815.9 517.8,816.3 518.3,817.0 518.9,817.8 519.4,818.6 519.9,819.3 520.5,819.9 521.0,820.4 521.6,820.8 522.1,821.0 522.6,821.1 523.2,821.2 523.7,821.3 524.3,821.3 524.8,821.3 525.3,821.3 525.9,821.3 526.4,821.3 527.0,821.3 527.5,821.3" fill="#cdeaee" stroke="#2ba5c0" stroke-width="0.8" stroke-linejoin="round"/>
<polygon points="527.2,821.3 528.2,821.3 529.2,821.3 530.2,821.3 531.2,821.2 532.2,821.1 533.2,820.9 534.2,820.4 535.2,819.5 536.2,817.7 537.2,814.8 538.3,810.0 539.3,802.9 540.3,793.0 541.3,780.1 542.3,764.7 543.3,748.0 544.3,731.6 545.3,717.7 546.3,708.4 547.3,705.1 548.3,708.4 549.3,717.7 550.3,731.6 551.3,748.0 552.3,764.7 553.3,780.1 554.3,793.0 555.3,802.9 556.3,810.0 557.3,814.8 558.4,817.7 559.4,819.5 560.4,820.4 561.4,820.9 562.4,821.1 563.4,821.2 564.4,821.3 565.4,821.3 566.4,821.3 567.4,821.3" fill="#cdeaee" stroke="#2ba5c0" stroke-width="0.8" stroke-linejoin="round"/>
<polygon points="523.5,821.3 524.5,821.3 525.6,821.3 526.6,821.3 527.6,821.3 528.7,821.2 529.7,821.2 530.7,821.0 531.8,820.7 532.8,820.1 533.9,819.1 534.9,817.4 535.9,815.0 537.0,811.6 538.0,807.2 539.0,801.9 540.1,796.1 541.1,790.5 542.1,785.7 543.2,782.5 544.2,781.4 545.2,782.5 546.3,785.7 547.3,790.5 548.3,796.1 549.4,801.9 550.4,807.2 551.4,811.6 552.5,815.0 553.5,817.4 554.6,819.1 555.6,820.1 556.6,820.7 557.7,821.0 558.7,821.2 559.7,821.2 560.8,821.3 561.8,821.3 562.8,821.3 563.9,821.3 564.9,821.3" fill="#d4d6ea" stroke="#8b90d0" stroke-width="0.8" stroke-linejoin="round"/>
<polygon points="527.8,821.3 528.8,821.3 529.8,821.3 530.7,821.3 531.7,821.3 532.7,821.3 533.6,821.3 534.6,821.2 535.6,821.1 536.6,821.0 537.5,820.7 538.5,820.3 539.5,819.7 540.5,818.9 541.4,817.8 542.4,816.5 543.4,815.1 544.4,813.7 545.3,812.6 546.3,811.8 547.3,811.5 548.3,811.8 549.2,812.6 550.2,813.7 551.2,815.1 552.2,816.5 553.1,817.8 554.1,818.9 555.1,819.7 556.1,820.3 557.0,820.7 558.0,821.0 559.0,821.1 560.0,821.2 560.9,821.3 561.9,821.3 562.9,821.3 563.9,821.3 564.8,821.3 565.8,821.3 566.8,821.3" fill="#fbd9c1" stroke="#f09a4a" stroke-width="0.8" stroke-linejoin="round"/>
<polygon points="527.8,821.3 528.8,821.3 529.8,821.3 530.7,821.3 531.7,821.3 532.7,821.3 533.6,821.3 534.6,821.2 535.6,821.2 536.6,821.1 537.5,820.9 538.5,820.6 539.5,820.2 540.5,819.6 541.4,818.8 542.4,817.9 543.4,816.9 544.4,815.9 545.3,815.1 546.3,814.5 547.3,814.3 548.3,814.5 549.2,815.1 550.2,815.9 551.2,816.9 552.2,817.9 553.1,818.8 554.1,819.6 555.1,820.2 556.1,820.6 557.0,820.9 558.0,821.1 559.0,821.2 560.0,821.2 560.9,821.3 561.9,821.3 562.9,821.3 563.9,821.3 564.8,821.3 565.8,821.3 566.8,821.3" fill="#d9ecd4" stroke="#5cb85c" stroke-width="0.8" stroke-linejoin="round"/>
<polygon points="702.7,821.3 703.4,821.3 704.1,821.3 704.8,821.3 705.5,821.2 706.2,821.2 706.9,821.2 707.6,821.2 708.3,821.2 709.0,821.2 709.7,821.1 710.4,821.1 711.1,821.0 711.8,820.9 712.5,820.8 713.2,820.7 714.0,820.4 714.7,820.1 715.4,819.7 716.1,819.0 716.8,818.1 717.5,816.9 718.2,815.2 718.9,812.9 719.6,809.9 720.3,806.1 721.0,801.2 721.7,795.3 722.4,788.1 723.1,779.7 723.8,770.1 724.5,759.4 725.2,748.0 725.9,736.1 726.6,724.1 727.3,712.7 728.0,702.3 728.7,693.6 729.4,686.9 730.1,682.7 730.8,681.3 731.5,682.7 732.2,686.9 732.9,693.6 733.6,702.3 734.3,712.7 735.0,724.1 735.7,736.1 736.4,748.0 737.1,759.4 737.8,770.1 738.5,779.7 739.2,788.1 739.9,795.3 740.6,801.2 741.3,806.1 742.0,809.9 742.7,812.9 743.4,815.2 744.1,816.9 744.8,818.1 745.5,819.0 746.2,819.7 746.9,820.1 747.6,820.4 748.3,820.7 749.1,820.8 749.8,820.9 750.5,821.0 751.2,821.1 751.9,821.1 752.6,821.2 753.3,821.2 754.0,821.2 754.7,821.2 755.4,821.2 756.1,821.2 756.8,821.3 757.5,821.3 758.2,821.3 758.9,821.3" fill="#f5c9cf" stroke="#e0667a" stroke-width="0.8" stroke-linejoin="round"/>
<polygon points="742.2,821.3 742.9,821.3 743.6,821.3 744.2,821.3 744.9,821.2 745.6,821.2 746.3,821.2 747.0,821.2 747.7,821.2 748.4,821.2 749.1,821.1 749.8,821.1 750.5,821.0 751.2,820.9 751.9,820.8 752.6,820.7 753.3,820.4 754.0,820.1 754.7,819.7 755.4,819.0 756.1,818.1 756.8,816.9 757.5,815.2 758.2,812.9 758.9,809.9 759.6,806.1 760.3,801.2 761.0,795.3 761.6,788.1 762.3,779.7 763.0,770.1 763.7,759.4 764.4,748.0 765.1,736.1 765.8,724.1 766.5,712.7 767.2,702.3 767.9,693.6 768.6,686.9 769.3,682.7 770.0,681.3 770.7,682.7 771.4,686.9 772.1,693.6 772.8,702.3 773.5,712.7 774.2,724.1 774.9,736.1 775.6,748.0 776.3,759.4 777.0,770.1 777.7,779.7 778.4,788.1 779.0,795.3 779.7,801.2 780.4,806.1 781.1,809.9 781.8,812.9 782.5,815.2 783.2,816.9 783.9,818.1 784.6,819.0 785.3,819.7 786.0,820.1 786.7,820.4 787.4,820.7 788.1,820.8 788.8,820.9 789.5,821.0 790.2,821.1 790.9,821.1 791.6,821.2 792.3,821.2 793.0,821.2 793.7,821.2 794.4,821.2 795.1,821.2 795.8,821.3 796.4,821.3 797.1,821.3 797.8,821.3" fill="#d9ecd4" stroke="#5cb85c" stroke-width="0.8" stroke-linejoin="round"/>
<polygon points="781.0,821.3 781.7,821.3 782.4,821.3 783.0,821.3 783.7,821.2 784.4,821.2 785.1,821.2 785.8,821.2 786.5,821.2 787.2,821.2 787.9,821.1 788.6,821.1 789.3,821.0 790.0,820.9 790.7,820.8 791.4,820.7 792.1,820.4 792.8,820.1 793.5,819.7 794.2,819.0 794.9,818.1 795.6,816.9 796.3,815.2 797.0,812.9 797.7,809.9 798.4,806.1 799.1,801.2 799.8,795.3 800.4,788.1 801.1,779.7 801.8,770.1 802.5,759.4 803.2,748.0 803.9,736.1 804.6,724.1 805.3,712.7 806.0,702.3 806.7,693.6 807.4,686.9 808.1,682.7 808.8,681.3 809.5,682.7 810.2,686.9 810.9,693.6 811.6,702.3 812.3,712.7 813.0,724.1 813.7,736.1 814.4,748.0 815.1,759.4 815.8,770.1 816.5,779.7 817.2,788.1 817.8,795.3 818.5,801.2 819.2,806.1 819.9,809.9 820.6,812.9 821.3,815.2 822.0,816.9 822.7,818.1 823.4,819.0 824.1,819.7 824.8,820.1 825.5,820.4 826.2,820.7 826.9,820.8 827.6,820.9 828.3,821.0 829.0,821.1 829.7,821.1 830.4,821.2 831.1,821.2 831.8,821.2 832.5,821.2 833.2,821.2 833.9,821.2 834.6,821.3 835.2,821.3 835.9,821.3 836.6,821.3" fill="#fbd9c1" stroke="#f09a4a" stroke-width="0.8" stroke-linejoin="round"/>
<polygon points="814.3,821.3 815.1,821.3 815.8,821.3 816.6,821.3 817.4,821.2 818.1,821.2 818.9,821.2 819.7,821.2 820.4,821.2 821.2,821.2 821.9,821.1 822.7,821.1 823.5,821.0 824.2,820.9 825.0,820.8 825.8,820.7 826.5,820.4 827.3,820.1 828.0,819.7 828.8,819.0 829.6,818.1 830.3,816.9 831.1,815.2 831.8,812.9 832.6,809.9 833.4,806.1 834.1,801.2 834.9,795.3 835.7,788.1 836.4,779.7 837.2,770.1 837.9,759.4 838.7,748.0 839.5,736.1 840.2,724.1 841.0,712.7 841.8,702.3 842.5,693.6 843.3,686.9 844.0,682.7 844.8,681.3 845.6,682.7 846.3,686.9 847.1,693.6 847.8,702.3 848.6,712.7 849.4,724.1 850.1,736.1 850.9,748.0 851.7,759.4 852.4,770.1 853.2,779.7 853.9,788.1 854.7,795.3 855.5,801.2 856.2,806.1 857.0,809.9 857.8,812.9 858.5,815.2 859.3,816.9 860.0,818.1 860.8,819.0 861.6,819.7 862.3,820.1 863.1,820.4 863.8,820.7 864.6,820.8 865.4,820.9 866.1,821.0 866.9,821.1 867.7,821.1 868.4,821.2 869.2,821.2 869.9,821.2 870.7,821.2 871.5,821.2 872.2,821.2 873.0,821.3 873.8,821.3 874.5,821.3 875.3,821.3" fill="#d4d6ea" stroke="#8b90d0" stroke-width="0.8" stroke-linejoin="round"/>
<polygon points="859.3,821.3 860.0,821.3 860.7,821.3 861.4,821.3 862.1,821.2 862.8,821.2 863.4,821.2 864.1,821.2 864.8,821.2 865.5,821.2 866.2,821.1 866.9,821.1 867.5,821.0 868.2,820.9 868.9,820.8 869.6,820.7 870.3,820.4 871.0,820.1 871.7,819.7 872.3,819.0 873.0,818.1 873.7,816.9 874.4,815.2 875.1,812.9 875.8,809.9 876.4,806.1 877.1,801.2 877.8,795.3 878.5,788.1 879.2,779.7 879.9,770.1 880.5,759.4 881.2,748.0 881.9,736.1 882.6,724.1 883.3,712.7 884.0,702.3 884.6,693.6 885.3,686.9 886.0,682.7 886.7,681.3 887.4,682.7 888.1,686.9 888.8,693.6 889.4,702.3 890.1,712.7 890.8,724.1 891.5,736.1 892.2,748.0 892.9,759.4 893.5,770.1 894.2,779.7 894.9,788.1 895.6,795.3 896.3,801.2 897.0,806.1 897.6,809.9 898.3,812.9 899.0,815.2 899.7,816.9 900.4,818.1 901.1,819.0 901.7,819.7 902.4,820.1 903.1,820.4 903.8,820.7 904.5,820.8 905.2,820.9 905.9,821.0 906.5,821.1 907.2,821.1 907.9,821.2 908.6,821.2 909.3,821.2 910.0,821.2 910.6,821.2 911.3,821.2 912.0,821.3 912.7,821.3 913.4,821.3 914.1,821.3" fill="#cdeaee" stroke="#2ba5c0" stroke-width="0.8" stroke-linejoin="round"/>
<line x1="202.4" y1="820.9" x2="902.7" y2="820.9" stroke="#e58a98" stroke-width="1" />
</g>
<text x="731.1" y="668.3" font-size="24.5" fill="#231815" text-anchor="middle">19</text>
<polygon points="727.2,673.1 734.4,673.1 730.8,678.3" fill="none" stroke="#e0667a" stroke-width="1"/>
<text x="770.3" y="668.3" font-size="24.5" fill="#231815" text-anchor="middle">23</text>
<polygon points="766.4,673.1 773.6,673.1 770.0,678.3" fill="none" stroke="#5cb85c" stroke-width="1"/>
<text x="809.1" y="668.3" font-size="24.5" fill="#231815" text-anchor="middle">27</text>
<polygon points="805.2,673.1 812.4,673.1 808.8,678.3" fill="none" stroke="#f09a4a" stroke-width="1"/>
<text x="845.1" y="668.3" font-size="24.5" fill="#231815" text-anchor="middle">31</text>
<polygon points="841.2,673.1 848.4,673.1 844.8,678.3" fill="none" stroke="#8b90d0" stroke-width="1"/>
<text x="887.0" y="668.3" font-size="24.5" fill="#231815" text-anchor="middle">35</text>
<polygon points="883.1,673.1 890.3,673.1 886.7,678.3" fill="none" stroke="#1b8fb2" stroke-width="1"/>
<line x1="172.4" y1="822.0" x2="172.4" y2="814.5" stroke="#000" stroke-width="1.6" />
<line x1="172.4" y1="639.1" x2="172.4" y2="646.6" stroke="#000" stroke-width="1.6" />
<line x1="360.0" y1="822.0" x2="360.0" y2="814.5" stroke="#000" stroke-width="1.6" />
<line x1="360.0" y1="639.1" x2="360.0" y2="646.6" stroke="#000" stroke-width="1.6" />
<line x1="547.5" y1="822.0" x2="547.5" y2="814.5" stroke="#000" stroke-width="1.6" />
<line x1="547.5" y1="639.1" x2="547.5" y2="646.6" stroke="#000" stroke-width="1.6" />
<line x1="735.1" y1="822.0" x2="735.1" y2="814.5" stroke="#000" stroke-width="1.6" />
<line x1="735.1" y1="639.1" x2="735.1" y2="646.6" stroke="#000" stroke-width="1.6" />
<line x1="922.7" y1="822.0" x2="922.7" y2="814.5" stroke="#000" stroke-width="1.6" />
<line x1="922.7" y1="639.1" x2="922.7" y2="646.6" stroke="#000" stroke-width="1.6" />
<line x1="266.2" y1="822.0" x2="266.2" y2="817.5" stroke="#000" stroke-width="1.6" />
<line x1="266.2" y1="639.1" x2="266.2" y2="643.6" stroke="#000" stroke-width="1.6" />
<line x1="453.8" y1="822.0" x2="453.8" y2="817.5" stroke="#000" stroke-width="1.6" />
<line x1="453.8" y1="639.1" x2="453.8" y2="643.6" stroke="#000" stroke-width="1.6" />
<line x1="641.3" y1="822.0" x2="641.3" y2="817.5" stroke="#000" stroke-width="1.6" />
<line x1="641.3" y1="639.1" x2="641.3" y2="643.6" stroke="#000" stroke-width="1.6" />
<line x1="828.9" y1="822.0" x2="828.9" y2="817.5" stroke="#000" stroke-width="1.6" />
<line x1="828.9" y1="639.1" x2="828.9" y2="643.6" stroke="#000" stroke-width="1.6" />
<line x1="172.4" y1="821.3" x2="179.9" y2="821.3" stroke="#000" stroke-width="1.6" />
<line x1="922.7" y1="821.3" x2="915.2" y2="821.3" stroke="#000" stroke-width="1.6" />
<line x1="172.4" y1="786.3" x2="176.9" y2="786.3" stroke="#000" stroke-width="1.6" />
<line x1="922.7" y1="786.3" x2="918.2" y2="786.3" stroke="#000" stroke-width="1.6" />
<line x1="172.4" y1="751.3" x2="179.9" y2="751.3" stroke="#000" stroke-width="1.6" />
<line x1="922.7" y1="751.3" x2="915.2" y2="751.3" stroke="#000" stroke-width="1.6" />
<line x1="172.4" y1="716.3" x2="176.9" y2="716.3" stroke="#000" stroke-width="1.6" />
<line x1="922.7" y1="716.3" x2="918.2" y2="716.3" stroke="#000" stroke-width="1.6" />
<line x1="172.4" y1="681.3" x2="179.9" y2="681.3" stroke="#000" stroke-width="1.6" />
<line x1="922.7" y1="681.3" x2="915.2" y2="681.3" stroke="#000" stroke-width="1.6" />
<line x1="172.4" y1="646.3" x2="176.9" y2="646.3" stroke="#000" stroke-width="1.6" />
<line x1="922.7" y1="646.3" x2="918.2" y2="646.3" stroke="#000" stroke-width="1.6" />
<rect x="172.4" y="639.1" width="750.3" height="182.9" fill="none" stroke="#000" stroke-width="2"/>
<text x="179.3" y="858.4" font-size="35.5" fill="#000" text-anchor="middle">−200</text>
<text x="366.4" y="858.4" font-size="35.5" fill="#000" text-anchor="middle">−100</text>
<text x="547.0" y="858.4" font-size="35.5" fill="#000" text-anchor="middle">0</text>
<text x="738.5" y="858.4" font-size="35.5" fill="#000" text-anchor="middle">100</text>
<text x="925.8" y="858.4" font-size="35.5" fill="#000" text-anchor="middle">200</text>
<text x="161.2" y="691.4" font-size="35.5" fill="#000" text-anchor="end">1.0</text>
<text x="161.2" y="761.5" font-size="35.5" fill="#000" text-anchor="end">0.5</text>
<text x="161.2" y="831.2" font-size="35.5" fill="#000" text-anchor="end">0.0</text>
<text transform="translate(99.4,739.5) rotate(-90)" font-size="35.3" text-anchor="middle" fill="#000">Intensity (a.u.)</text>
<text x="504.3" y="894.2" font-size="35.3" fill="#000"><tspan font-style="italic">x</tspan><tspan dx="3">(µm)</tspan></text>
<rect x="234.1" y="665.3" width="295.1" height="72.8" fill="#fff" stroke="none"/>
<line x1="360.0" y1="665.3" x2="360.0" y2="738.1" stroke="#e4e4e4" stroke-width="1" stroke-dasharray="3.5 3.5"/>
<line x1="234.1" y1="681.3" x2="529.2" y2="681.3" stroke="#e4e4e4" stroke-width="1" stroke-dasharray="3.5 3.5"/>
<line x1="246.7" y1="738.1" x2="246.7" y2="733.6" stroke="#000" stroke-width="1.3" />
<line x1="246.7" y1="665.3" x2="246.7" y2="669.8" stroke="#000" stroke-width="1.3" />
<text x="246.7" y="763.8" font-size="23.6" fill="#000" text-anchor="middle">15</text>
<line x1="310.9" y1="738.1" x2="310.9" y2="733.6" stroke="#000" stroke-width="1.3" />
<line x1="310.9" y1="665.3" x2="310.9" y2="669.8" stroke="#000" stroke-width="1.3" />
<text x="310.9" y="763.8" font-size="23.6" fill="#000" text-anchor="middle">20</text>
<line x1="375.0" y1="738.1" x2="375.0" y2="733.6" stroke="#000" stroke-width="1.3" />
<line x1="375.0" y1="665.3" x2="375.0" y2="669.8" stroke="#000" stroke-width="1.3" />
<text x="375.0" y="763.8" font-size="23.6" fill="#000" text-anchor="middle">25</text>
<line x1="439.1" y1="738.1" x2="439.1" y2="733.6" stroke="#000" stroke-width="1.3" />
<line x1="439.1" y1="665.3" x2="439.1" y2="669.8" stroke="#000" stroke-width="1.3" />
<text x="439.1" y="763.8" font-size="23.6" fill="#000" text-anchor="middle">30</text>
<line x1="503.3" y1="738.1" x2="503.3" y2="733.6" stroke="#000" stroke-width="1.3" />
<line x1="503.3" y1="665.3" x2="503.3" y2="669.8" stroke="#000" stroke-width="1.3" />
<text x="503.3" y="763.8" font-size="23.6" fill="#000" text-anchor="middle">35</text>
<line x1="234.1" y1="677.9" x2="238.6" y2="677.9" stroke="#000" stroke-width="1.3" />
<line x1="529.2" y1="677.9" x2="524.7" y2="677.9" stroke="#000" stroke-width="1.3" />
<line x1="234.1" y1="702.1" x2="237.1" y2="702.1" stroke="#000" stroke-width="1.3" />
<line x1="529.2" y1="702.1" x2="526.2" y2="702.1" stroke="#000" stroke-width="1.3" />
<line x1="234.1" y1="726.3" x2="238.6" y2="726.3" stroke="#000" stroke-width="1.3" />
<line x1="529.2" y1="726.3" x2="524.7" y2="726.3" stroke="#000" stroke-width="1.3" />
<text x="227.2" y="684.0" font-size="23.6" fill="#000" text-anchor="end">1.0</text>
<text x="227.2" y="733.0" font-size="23.6" fill="#000" text-anchor="end">0.6</text>
<text transform="translate(196.3,702.6) rotate(-90)" font-size="23" text-anchor="middle" style='font-family:"DejaVu Math TeX Gyre","DejaVu Sans",sans-serif' fill="#000" stroke="#000" stroke-width="0.3">ℱ</text>
<text x="375.5" y="791.3" font-size="24.2" fill="#000" text-anchor="middle">Number of waveguides</text>
<rect x="234.1" y="665.3" width="295.1" height="72.8" fill="none" stroke="#000" stroke-width="1.5"/>
<polyline points="245.7,678.3 297.0,678.2 348.3,678.3 399.7,680.0 451.0,695.5 502.3,723.3" fill="none" stroke="#d0607a" stroke-width="1.3"/>
<circle cx="245.7" cy="678.3" r="4.7" fill="url(#ballR)"/>
<circle cx="297.0" cy="678.2" r="4.7" fill="url(#ballR)"/>
<circle cx="348.3" cy="678.3" r="4.7" fill="url(#ballR)"/>
<circle cx="399.7" cy="680.0" r="4.7" fill="url(#ballR)"/>
<circle cx="451.0" cy="695.5" r="4.7" fill="url(#ballR)"/>
<circle cx="502.3" cy="723.3" r="4.7" fill="url(#ballR)"/>
<rect x="493.5" y="713.6" width="18.4" height="18.8" fill="none" stroke="#595757" stroke-width="1.6" stroke-dasharray="5.89 6.62 5.89 0" />
<line x1="511.9" y1="713.6" x2="592.4" y2="659.0" stroke="#595757" stroke-width="1.8" stroke-dasharray="10.5 6.5"/>
<line x1="511.9" y1="732.4" x2="592.4" y2="800.0" stroke="#595757" stroke-width="1.8" stroke-dasharray="10.5 6.5"/>
<clipPath id="ci1"><rect x="592.4" y="659.0" width="95.6" height="141.0"/></clipPath>
<rect x="592.4" y="659.0" width="95.6" height="141.0" fill="#0e0006"/>
<g clip-path="url(#ci1)">
<ellipse cx="636.4" cy="729.0" rx="26" ry="14" fill="#a8181c" opacity="0.7" filter="url(#b3)"/>
<ellipse cx="623.4" cy="767.0" rx="10" ry="16" fill="#8a1418" opacity="0.45" filter="url(#b3)"/>
<ellipse cx="654.4" cy="757.0" rx="10" ry="6" fill="#8a1418" opacity="0.3" filter="url(#b3)"/>
<linearGradient id="fv1" gradientUnits="userSpaceOnUse" x1="0" y1="659.0" x2="0" y2="800.0"><stop offset="0" stop-color="#d8281f" stop-opacity="0.12"/><stop offset="0.3" stop-color="#d8281f" stop-opacity="0.3"/><stop offset="0.45" stop-color="#e02c22" stop-opacity="1"/><stop offset="0.62" stop-color="#e02c22" stop-opacity="0.9"/><stop offset="0.75" stop-color="#d8281f" stop-opacity="0.45"/><stop offset="1" stop-color="#d8281f" stop-opacity="0.3"/></linearGradient>
<g filter="url(#b1)">
<path d="M599.0,665.8 Q616.7,719.0 618.7,741.0" fill="none" stroke="url(#fv1)" stroke-width="1.4" opacity="1.00"/>
<path d="M618.7,743.0 Q618.7,771.0 610.5,800.0" fill="none" stroke="url(#fv1)" stroke-width="1.2" opacity="0.62"/>
<path d="M604.6,670.7 Q621.1,719.0 623.1,741.0" fill="none" stroke="url(#fv1)" stroke-width="1.4" opacity="0.84"/>
<path d="M623.1,743.0 Q623.1,771.0 617.6,800.0" fill="none" stroke="url(#fv1)" stroke-width="1.2" opacity="0.64"/>
<path d="M610.1,675.5 Q625.4,719.0 627.4,741.0" fill="none" stroke="url(#fv1)" stroke-width="1.4" opacity="0.68"/>
<path d="M627.4,743.0 Q627.4,771.0 624.6,800.0" fill="none" stroke="url(#fv1)" stroke-width="1.2" opacity="0.60"/>
<path d="M615.7,680.3 Q629.7,719.0 631.7,741.0" fill="none" stroke="url(#fv1)" stroke-width="1.4" opacity="0.63"/>
<path d="M631.7,743.0 Q631.7,771.0 631.7,800.0" fill="none" stroke="url(#fv1)" stroke-width="1.2" opacity="0.57"/>
<path d="M621.3,685.2 Q634.1,719.0 636.1,741.0" fill="none" stroke="url(#fv1)" stroke-width="1.4" opacity="0.58"/>
<path d="M636.1,743.0 Q636.1,771.0 638.8,800.0" fill="none" stroke="url(#fv1)" stroke-width="1.2" opacity="0.53"/>
<path d="M626.9,690.0 Q638.4,719.0 640.4,741.0" fill="none" stroke="url(#fv1)" stroke-width="1.4" opacity="0.53"/>
<path d="M640.4,743.0 Q640.4,771.0 645.9,800.0" fill="none" stroke="url(#fv1)" stroke-width="1.2" opacity="0.49"/>
<path d="M632.5,694.8 Q642.7,719.0 644.7,741.0" fill="none" stroke="url(#fv1)" stroke-width="1.4" opacity="0.47"/>
<path d="M644.7,743.0 Q644.7,771.0 653.0,800.0" fill="none" stroke="url(#fv1)" stroke-width="1.2" opacity="0.45"/>
<path d="M638.1,699.7 Q647.1,719.0 649.1,741.0" fill="none" stroke="url(#fv1)" stroke-width="1.4" opacity="0.43"/>
<path d="M649.1,743.0 Q649.1,771.0 660.1,800.0" fill="none" stroke="url(#fv1)" stroke-width="1.2" opacity="0.41"/>
<path d="M643.6,704.5 Q651.4,719.0 653.4,741.0" fill="none" stroke="url(#fv1)" stroke-width="1.4" opacity="0.38"/>
<path d="M653.4,743.0 Q653.4,771.0 667.1,800.0" fill="none" stroke="url(#fv1)" stroke-width="1.2" opacity="0.38"/>
<path d="M649.2,709.3 Q655.7,719.0 657.7,741.0" fill="none" stroke="url(#fv1)" stroke-width="1.4" opacity="0.33"/>
<path d="M657.7,743.0 Q657.7,771.0 674.2,800.0" fill="none" stroke="url(#fv1)" stroke-width="1.2" opacity="0.34"/>
<path d="M654.8,714.2 Q660.1,719.0 662.1,741.0" fill="none" stroke="url(#fv1)" stroke-width="1.4" opacity="0.28"/>
<path d="M662.1,743.0 Q662.1,771.0 681.3,800.0" fill="none" stroke="url(#fv1)" stroke-width="1.2" opacity="0.30"/>
<path d="M660.4,719.0 Q664.4,719.0 666.4,741.0" fill="none" stroke="url(#fv1)" stroke-width="1.4" opacity="0.23"/>
<path d="M666.4,743.0 Q666.4,771.0 688.4,800.0" fill="none" stroke="url(#fv1)" stroke-width="1.2" opacity="0.26"/>
</g>
<path d="M620.4,752.0 L662.4,743.0" stroke="#0e0006" stroke-width="7" opacity="0.8" filter="url(#b2)" fill="none"/>
<ellipse cx="623.4" cy="741.5" rx="10" ry="1.5" fill="#0e0006" opacity="0.85" filter="url(#b1)"/>
<path d="M592.9,659.0 C600.4,675.0 611.4,701.0 614.4,743.0" fill="none" stroke="url(#haloA)" stroke-width="3.4" opacity="0.9" filter="url(#b1)"/>
<path d="M592.9,659.0 C600.4,675.0 610.4,699.0 613.4,723.0" fill="none" stroke="url(#hotA)" stroke-width="1.7"/>
<path d="M666.4,725.0 Q669.4,769.0 687.4,801.0" fill="none" stroke="url(#haloB)" stroke-width="3.4" opacity="0.9" filter="url(#b1)"/>
<path d="M667.0,741.0 Q670.9,771.0 687.4,801.0" fill="none" stroke="url(#hotB)" stroke-width="1.7"/>
<rect x="639.1" y="752.0" width="2.2" height="48.0" fill="#ff4a22" filter="url(#b1)"/>
<path d="M614.4,745.0 Q612.9,777.0 603.9,800.0" fill="none" stroke="#e03a2a" stroke-width="1.8" opacity="0.9" filter="url(#b1)"/>
</g>
<path d="M594.3,644.5 V652.0" stroke="#e8474c" stroke-width="1.7" fill="none"/>
<polygon points="590.6,650.8 598.0,650.8 594.3,657.0" fill="#e8474c"/>
<line x1="172.8" y1="1049.9" x2="922.4" y2="1049.9" stroke="#e2e2e2" stroke-width="1" stroke-dasharray="3.5 3.5"/>
<line x1="690.0" y1="980.0" x2="922.4" y2="980.0" stroke="#e2e2e2" stroke-width="1" stroke-dasharray="3.5 3.5"/>
<line x1="360.2" y1="938.0" x2="360.2" y2="1120.8" stroke="#e2e2e2" stroke-width="1" stroke-dasharray="3.5 3.5"/>
<line x1="547.6" y1="938.0" x2="547.6" y2="1120.8" stroke="#e2e2e2" stroke-width="1" stroke-dasharray="3.5 3.5"/>
<line x1="735.0" y1="938.0" x2="735.0" y2="1120.8" stroke="#e2e2e2" stroke-width="1" stroke-dasharray="3.5 3.5"/>
<clipPath id="cp938"><rect x="172.8" y="938.0" width="749.6" height="182.8"/></clipPath>
<g clip-path="url(#cp938)">
<polygon points="168.0,1119.8 169.2,1119.8 170.4,1119.8 171.6,1119.8 172.8,1119.8 174.0,1119.8 175.2,1119.8 176.4,1119.8 177.6,1119.7 178.8,1119.6 180.0,1119.4 181.2,1119.2 182.4,1118.8 183.6,1118.3 184.8,1117.6 186.0,1116.7 187.2,1115.8 188.4,1114.9 189.6,1114.2 190.8,1113.7 192.0,1113.5 193.2,1113.7 194.4,1114.2 195.6,1114.9 196.8,1115.8 198.0,1116.7 199.2,1117.6 200.4,1118.3 201.6,1118.8 202.8,1119.2 204.0,1119.4 205.2,1119.6 206.4,1119.7 207.6,1119.8 208.8,1119.8 210.0,1119.8 211.2,1119.8 212.4,1119.8 213.6,1119.8 214.8,1119.8 216.0,1119.8" fill="#cdeaee" stroke="#2ba5c0" stroke-width="0.8" stroke-linejoin="round"/>
<polygon points="193.0,1119.8 193.9,1119.8 194.8,1119.8 195.7,1119.8 196.6,1119.8 197.5,1119.8 198.4,1119.8 199.3,1119.8 200.2,1119.7 201.1,1119.6 202.0,1119.5 202.9,1119.3 203.8,1119.0 204.7,1118.6 205.6,1118.1 206.5,1117.4 207.4,1116.7 208.3,1116.0 209.2,1115.4 210.1,1115.0 211.0,1114.9 211.9,1115.0 212.8,1115.4 213.7,1116.0 214.6,1116.7 215.5,1117.4 216.4,1118.1 217.3,1118.6 218.2,1119.0 219.1,1119.3 220.0,1119.5 220.9,1119.6 221.8,1119.7 222.7,1119.8 223.6,1119.8 224.5,1119.8 225.4,1119.8 226.3,1119.8 227.2,1119.8 228.1,1119.8 229.0,1119.8" fill="#cdeaee" stroke="#2ba5c0" stroke-width="0.8" stroke-linejoin="round"/>
<polygon points="223.0,1119.8 223.8,1119.8 224.5,1119.8 225.2,1119.8 226.0,1119.8 226.8,1119.8 227.5,1119.8 228.2,1119.8 229.0,1119.7 229.8,1119.6 230.5,1119.4 231.2,1119.2 232.0,1118.8 232.8,1118.3 233.5,1117.6 234.2,1116.7 235.0,1115.8 235.8,1114.9 236.5,1114.2 237.2,1113.7 238.0,1113.5 238.8,1113.7 239.5,1114.2 240.2,1114.9 241.0,1115.8 241.8,1116.7 242.5,1117.6 243.2,1118.3 244.0,1118.8 244.8,1119.2 245.5,1119.4 246.2,1119.6 247.0,1119.7 247.8,1119.8 248.5,1119.8 249.2,1119.8 250.0,1119.8 250.8,1119.8 251.5,1119.8 252.2,1119.8 253.0,1119.8" fill="#d4d6ea" stroke="#8b90d0" stroke-width="0.8" stroke-linejoin="round"/>
<polygon points="241.0,1119.8 241.6,1119.8 242.2,1119.8 242.8,1119.8 243.4,1119.8 244.0,1119.8 244.6,1119.8 245.2,1119.8 245.8,1119.8 246.4,1119.7 247.0,1119.6 247.6,1119.5 248.2,1119.4 248.8,1119.1 249.4,1118.8 250.0,1118.4 250.6,1118.0 251.2,1117.6 251.8,1117.3 252.4,1117.1 253.0,1117.0 253.6,1117.1 254.2,1117.3 254.8,1117.6 255.4,1118.0 256.0,1118.4 256.6,1118.8 257.2,1119.1 257.8,1119.4 258.4,1119.5 259.0,1119.6 259.6,1119.7 260.2,1119.8 260.8,1119.8 261.4,1119.8 262.0,1119.8 262.6,1119.8 263.2,1119.8 263.8,1119.8 264.4,1119.8 265.0,1119.8" fill="#d4d6ea" stroke="#8b90d0" stroke-width="0.8" stroke-linejoin="round"/>
<polygon points="350.0,1119.8 350.6,1119.8 351.2,1119.8 351.8,1119.8 352.4,1119.8 353.0,1119.8 353.6,1119.8 354.2,1119.8 354.8,1119.7 355.4,1119.7 356.0,1119.6 356.6,1119.4 357.2,1119.1 357.8,1118.8 358.4,1118.3 359.0,1117.8 359.6,1117.2 360.2,1116.6 360.8,1116.1 361.4,1115.7 362.0,1115.6 362.6,1115.7 363.2,1116.1 363.8,1116.6 364.4,1117.2 365.0,1117.8 365.6,1118.3 366.2,1118.8 366.8,1119.1 367.4,1119.4 368.0,1119.6 368.6,1119.7 369.2,1119.7 369.8,1119.8 370.4,1119.8 371.0,1119.8 371.6,1119.8 372.2,1119.8 372.8,1119.8 373.4,1119.8 374.0,1119.8" fill="#f5c9cf" stroke="#e0667a" stroke-width="0.8" stroke-linejoin="round"/>
<polygon points="259.0,1119.8 260.2,1119.8 261.4,1119.8 262.6,1119.8 263.8,1119.8 265.0,1119.8 266.2,1119.8 267.4,1119.8 268.6,1119.8 269.8,1119.7 271.0,1119.7 272.2,1119.6 273.4,1119.5 274.6,1119.3 275.8,1119.1 277.0,1118.8 278.2,1118.5 279.4,1118.2 280.6,1117.9 281.8,1117.8 283.0,1117.7 284.2,1117.8 285.4,1117.9 286.6,1118.2 287.8,1118.5 289.0,1118.8 290.2,1119.1 291.4,1119.3 292.6,1119.5 293.8,1119.6 295.0,1119.7 296.2,1119.7 297.4,1119.8 298.6,1119.8 299.8,1119.8 301.0,1119.8 302.2,1119.8 303.4,1119.8 304.6,1119.8 305.8,1119.8 307.0,1119.8" fill="#fbd9c1" stroke="#f09a4a" stroke-width="0.8" stroke-linejoin="round"/>
<polygon points="298.0,1119.8 298.8,1119.8 299.5,1119.8 300.2,1119.8 301.0,1119.8 301.8,1119.8 302.5,1119.8 303.2,1119.8 304.0,1119.8 304.8,1119.7 305.5,1119.6 306.2,1119.5 307.0,1119.4 307.8,1119.1 308.5,1118.8 309.2,1118.4 310.0,1118.0 310.8,1117.6 311.5,1117.3 312.2,1117.1 313.0,1117.0 313.8,1117.1 314.5,1117.3 315.2,1117.6 316.0,1118.0 316.8,1118.4 317.5,1118.8 318.2,1119.1 319.0,1119.4 319.8,1119.5 320.5,1119.6 321.2,1119.7 322.0,1119.8 322.8,1119.8 323.5,1119.8 324.2,1119.8 325.0,1119.8 325.8,1119.8 326.5,1119.8 327.2,1119.8 328.0,1119.8" fill="#d9ecd4" stroke="#5cb85c" stroke-width="0.8" stroke-linejoin="round"/>
<polygon points="712.6,1119.8 713.2,1119.8 713.9,1119.8 714.5,1119.8 715.1,1119.7 715.8,1119.7 716.4,1119.7 717.0,1119.7 717.6,1119.7 718.3,1119.7 718.9,1119.6 719.5,1119.6 720.2,1119.5 720.8,1119.4 721.4,1119.3 722.0,1119.2 722.7,1118.9 723.3,1118.6 723.9,1118.2 724.6,1117.5 725.2,1116.6 725.8,1115.4 726.5,1113.7 727.1,1111.4 727.7,1108.5 728.3,1104.6 729.0,1099.8 729.6,1093.8 730.2,1086.7 730.9,1078.3 731.5,1068.7 732.1,1058.0 732.8,1046.6 733.4,1034.7 734.0,1022.8 734.6,1011.4 735.3,1001.0 735.9,992.2 736.5,985.6 737.2,981.4 737.8,980.0 738.4,981.4 739.1,985.6 739.7,992.2 740.3,1001.0 740.9,1011.4 741.6,1022.8 742.2,1034.7 742.8,1046.6 743.5,1058.0 744.1,1068.7 744.7,1078.3 745.4,1086.7 746.0,1093.8 746.6,1099.8 747.2,1104.6 747.9,1108.5 748.5,1111.4 749.1,1113.7 749.8,1115.4 750.4,1116.6 751.0,1117.5 751.7,1118.2 752.3,1118.6 752.9,1118.9 753.5,1119.2 754.2,1119.3 754.8,1119.4 755.4,1119.5 756.1,1119.6 756.7,1119.6 757.3,1119.7 758.0,1119.7 758.6,1119.7 759.2,1119.7 759.8,1119.7 760.5,1119.7 761.1,1119.8 761.7,1119.8 762.4,1119.8 763.0,1119.8" fill="#f5c9cf" stroke="#e0667a" stroke-width="0.8" stroke-linejoin="round"/>
<polygon points="741.7,1119.8 742.4,1119.8 743.0,1119.8 743.6,1119.8 744.2,1119.7 744.9,1119.7 745.5,1119.7 746.1,1119.7 746.7,1119.7 747.4,1119.7 748.0,1119.6 748.6,1119.6 749.2,1119.5 749.9,1119.4 750.5,1119.3 751.1,1119.2 751.7,1118.9 752.3,1118.6 753.0,1118.2 753.6,1117.5 754.2,1116.6 754.8,1115.4 755.5,1113.7 756.1,1111.4 756.7,1108.5 757.3,1104.6 758.0,1099.8 758.6,1093.8 759.2,1086.7 759.8,1078.3 760.5,1068.7 761.1,1058.0 761.7,1046.6 762.3,1034.7 763.0,1022.8 763.6,1011.4 764.2,1001.0 764.8,992.2 765.5,985.6 766.1,981.4 766.7,980.0 767.3,981.4 767.9,985.6 768.6,992.2 769.2,1001.0 769.8,1011.4 770.4,1022.8 771.1,1034.7 771.7,1046.6 772.3,1058.0 772.9,1068.7 773.6,1078.3 774.2,1086.7 774.8,1093.8 775.4,1099.8 776.1,1104.6 776.7,1108.5 777.3,1111.4 777.9,1113.7 778.6,1115.4 779.2,1116.6 779.8,1117.5 780.4,1118.2 781.1,1118.6 781.7,1118.9 782.3,1119.2 782.9,1119.3 783.5,1119.4 784.2,1119.5 784.8,1119.6 785.4,1119.6 786.0,1119.7 786.7,1119.7 787.3,1119.7 787.9,1119.7 788.5,1119.7 789.2,1119.7 789.8,1119.8 790.4,1119.8 791.0,1119.8 791.7,1119.8" fill="#d9ecd4" stroke="#5cb85c" stroke-width="0.8" stroke-linejoin="round"/>
<polygon points="778.6,1119.8 779.2,1119.8 779.9,1119.8 780.5,1119.8 781.2,1119.7 781.8,1119.7 782.5,1119.7 783.1,1119.7 783.8,1119.7 784.4,1119.7 785.1,1119.6 785.7,1119.6 786.4,1119.5 787.0,1119.4 787.7,1119.3 788.3,1119.2 788.9,1118.9 789.6,1118.6 790.2,1118.2 790.9,1117.5 791.5,1116.6 792.2,1115.4 792.8,1113.7 793.5,1111.4 794.1,1108.5 794.8,1104.6 795.4,1099.8 796.1,1093.8 796.7,1086.7 797.4,1078.3 798.0,1068.7 798.7,1058.0 799.3,1046.6 800.0,1034.7 800.6,1022.8 801.3,1011.4 801.9,1001.0 802.6,992.2 803.2,985.6 803.9,981.4 804.5,980.0 805.1,981.4 805.8,985.6 806.4,992.2 807.1,1001.0 807.7,1011.4 808.4,1022.8 809.0,1034.7 809.7,1046.6 810.3,1058.0 811.0,1068.7 811.6,1078.3 812.3,1086.7 812.9,1093.8 813.6,1099.8 814.2,1104.6 814.9,1108.5 815.5,1111.4 816.2,1113.7 816.8,1115.4 817.5,1116.6 818.1,1117.5 818.8,1118.2 819.4,1118.6 820.1,1118.9 820.7,1119.2 821.3,1119.3 822.0,1119.4 822.6,1119.5 823.3,1119.6 823.9,1119.6 824.6,1119.7 825.2,1119.7 825.9,1119.7 826.5,1119.7 827.2,1119.7 827.8,1119.7 828.5,1119.8 829.1,1119.8 829.8,1119.8 830.4,1119.8" fill="#fbd9c1" stroke="#f09a4a" stroke-width="0.8" stroke-linejoin="round"/>
<polygon points="813.3,1119.8 814.0,1119.8 814.6,1119.8 815.3,1119.8 816.0,1119.7 816.7,1119.7 817.3,1119.7 818.0,1119.7 818.7,1119.7 819.4,1119.7 820.1,1119.6 820.7,1119.6 821.4,1119.5 822.1,1119.4 822.8,1119.3 823.4,1119.2 824.1,1118.9 824.8,1118.6 825.5,1118.2 826.2,1117.5 826.8,1116.6 827.5,1115.4 828.2,1113.7 828.9,1111.4 829.6,1108.5 830.2,1104.6 830.9,1099.8 831.6,1093.8 832.3,1086.7 832.9,1078.3 833.6,1068.7 834.3,1058.0 835.0,1046.6 835.7,1034.7 836.3,1022.8 837.0,1011.4 837.7,1001.0 838.4,992.2 839.0,985.6 839.7,981.4 840.4,980.0 841.1,981.4 841.8,985.6 842.4,992.2 843.1,1001.0 843.8,1011.4 844.5,1022.8 845.1,1034.7 845.8,1046.6 846.5,1058.0 847.2,1068.7 847.9,1078.3 848.5,1086.7 849.2,1093.8 849.9,1099.8 850.6,1104.6 851.2,1108.5 851.9,1111.4 852.6,1113.7 853.3,1115.4 854.0,1116.6 854.6,1117.5 855.3,1118.2 856.0,1118.6 856.7,1118.9 857.4,1119.2 858.0,1119.3 858.7,1119.4 859.4,1119.5 860.1,1119.6 860.7,1119.6 861.4,1119.7 862.1,1119.7 862.8,1119.7 863.5,1119.7 864.1,1119.7 864.8,1119.7 865.5,1119.8 866.2,1119.8 866.8,1119.8 867.5,1119.8" fill="#d4d6ea" stroke="#8b90d0" stroke-width="0.8" stroke-linejoin="round"/>
<polygon points="850.3,1119.8 851.1,1119.7 851.8,1119.7 852.5,1119.7 853.2,1119.7 853.9,1119.7 854.6,1119.6 855.3,1119.6 856.1,1119.6 856.8,1119.5 857.5,1119.5 858.2,1119.4 858.9,1119.3 859.6,1119.1 860.3,1119.0 861.0,1118.7 861.8,1118.4 862.5,1118.0 863.2,1117.5 863.9,1116.7 864.6,1115.7 865.3,1114.4 866.0,1112.6 866.8,1110.2 867.5,1107.1 868.2,1103.2 868.9,1098.4 869.6,1092.4 870.3,1085.3 871.0,1077.0 871.8,1067.5 872.5,1057.0 873.2,1045.7 873.9,1034.0 874.6,1022.3 875.3,1011.0 876.0,1000.8 876.8,992.1 877.5,985.5 878.2,981.4 878.9,980.0 879.6,981.4 880.3,985.5 881.0,992.1 881.8,1000.8 882.5,1011.0 883.2,1022.3 883.9,1034.0 884.6,1045.7 885.3,1057.0 886.0,1067.5 886.8,1077.0 887.5,1085.3 888.2,1092.4 888.9,1098.4 889.6,1103.2 890.3,1107.1 891.0,1110.2 891.8,1112.6 892.5,1114.4 893.2,1115.7 893.9,1116.7 894.6,1117.5 895.3,1118.0 896.0,1118.4 896.8,1118.7 897.5,1119.0 898.2,1119.1 898.9,1119.3 899.6,1119.4 900.3,1119.5 901.0,1119.5 901.7,1119.6 902.5,1119.6 903.2,1119.6 903.9,1119.7 904.6,1119.7 905.3,1119.7 906.0,1119.7 906.7,1119.7 907.5,1119.8" fill="#cdeaee" stroke="#2ba5c0" stroke-width="0.8" stroke-linejoin="round"/>
<line x1="202.8" y1="1119.4" x2="902.4" y2="1119.4" stroke="#3aaac4" stroke-width="1" />
</g>
<text x="738.1" y="966.4" font-size="24.5" fill="#231815" text-anchor="middle">20</text>
<polygon points="734.2,971.8 741.4,971.8 737.8,977.0" fill="none" stroke="#e0667a" stroke-width="1"/>
<text x="767.0" y="966.4" font-size="24.5" fill="#231815" text-anchor="middle">24</text>
<polygon points="763.1,971.8 770.3,971.8 766.7,977.0" fill="none" stroke="#5cb85c" stroke-width="1"/>
<text x="804.8" y="966.4" font-size="24.5" fill="#231815" text-anchor="middle">28</text>
<polygon points="800.9,971.8 808.1,971.8 804.5,977.0" fill="none" stroke="#f09a4a" stroke-width="1"/>
<text x="840.7" y="966.4" font-size="24.5" fill="#231815" text-anchor="middle">32</text>
<polygon points="836.8,971.8 844.0,971.8 840.4,977.0" fill="none" stroke="#8b90d0" stroke-width="1"/>
<text x="879.2" y="966.4" font-size="24.5" fill="#231815" text-anchor="middle">36</text>
<polygon points="875.3,971.8 882.5,971.8 878.9,977.0" fill="none" stroke="#1b8fb2" stroke-width="1"/>
<line x1="172.8" y1="1120.8" x2="172.8" y2="1113.3" stroke="#000" stroke-width="1.6" />
<line x1="172.8" y1="938.0" x2="172.8" y2="945.5" stroke="#000" stroke-width="1.6" />
<line x1="360.2" y1="1120.8" x2="360.2" y2="1113.3" stroke="#000" stroke-width="1.6" />
<line x1="360.2" y1="938.0" x2="360.2" y2="945.5" stroke="#000" stroke-width="1.6" />
<line x1="547.6" y1="1120.8" x2="547.6" y2="1113.3" stroke="#000" stroke-width="1.6" />
<line x1="547.6" y1="938.0" x2="547.6" y2="945.5" stroke="#000" stroke-width="1.6" />
<line x1="735.0" y1="1120.8" x2="735.0" y2="1113.3" stroke="#000" stroke-width="1.6" />
<line x1="735.0" y1="938.0" x2="735.0" y2="945.5" stroke="#000" stroke-width="1.6" />
<line x1="922.4" y1="1120.8" x2="922.4" y2="1113.3" stroke="#000" stroke-width="1.6" />
<line x1="922.4" y1="938.0" x2="922.4" y2="945.5" stroke="#000" stroke-width="1.6" />
<line x1="266.5" y1="1120.8" x2="266.5" y2="1116.3" stroke="#000" stroke-width="1.6" />
<line x1="266.5" y1="938.0" x2="266.5" y2="942.5" stroke="#000" stroke-width="1.6" />
<line x1="453.9" y1="1120.8" x2="453.9" y2="1116.3" stroke="#000" stroke-width="1.6" />
<line x1="453.9" y1="938.0" x2="453.9" y2="942.5" stroke="#000" stroke-width="1.6" />
<line x1="641.3" y1="1120.8" x2="641.3" y2="1116.3" stroke="#000" stroke-width="1.6" />
<line x1="641.3" y1="938.0" x2="641.3" y2="942.5" stroke="#000" stroke-width="1.6" />
<line x1="828.7" y1="1120.8" x2="828.7" y2="1116.3" stroke="#000" stroke-width="1.6" />
<line x1="828.7" y1="938.0" x2="828.7" y2="942.5" stroke="#000" stroke-width="1.6" />
<line x1="172.8" y1="1119.8" x2="180.3" y2="1119.8" stroke="#000" stroke-width="1.6" />
<line x1="922.4" y1="1119.8" x2="914.9" y2="1119.8" stroke="#000" stroke-width="1.6" />
<line x1="172.8" y1="1084.8" x2="177.3" y2="1084.8" stroke="#000" stroke-width="1.6" />
<line x1="922.4" y1="1084.8" x2="917.9" y2="1084.8" stroke="#000" stroke-width="1.6" />
<line x1="172.8" y1="1049.9" x2="180.3" y2="1049.9" stroke="#000" stroke-width="1.6" />
<line x1="922.4" y1="1049.9" x2="914.9" y2="1049.9" stroke="#000" stroke-width="1.6" />
<line x1="172.8" y1="1014.9" x2="177.3" y2="1014.9" stroke="#000" stroke-width="1.6" />
<line x1="922.4" y1="1014.9" x2="917.9" y2="1014.9" stroke="#000" stroke-width="1.6" />
<line x1="172.8" y1="980.0" x2="180.3" y2="980.0" stroke="#000" stroke-width="1.6" />
<line x1="922.4" y1="980.0" x2="914.9" y2="980.0" stroke="#000" stroke-width="1.6" />
<line x1="172.8" y1="945.0" x2="177.3" y2="945.0" stroke="#000" stroke-width="1.6" />
<line x1="922.4" y1="945.0" x2="917.9" y2="945.0" stroke="#000" stroke-width="1.6" />
<rect x="172.8" y="938.0" width="749.6" height="182.8" fill="none" stroke="#000" stroke-width="2"/>
<text x="171.7" y="1160.2" font-size="35.5" fill="#000" text-anchor="middle">−200</text>
<text x="360.5" y="1160.2" font-size="35.5" fill="#000" text-anchor="middle">−100</text>
<text x="547.4" y="1160.2" font-size="35.5" fill="#000" text-anchor="middle">0</text>
<text x="736.5" y="1160.2" font-size="35.5" fill="#000" text-anchor="middle">100</text>
<text x="922.5" y="1160.2" font-size="35.5" fill="#000" text-anchor="middle">200</text>
<text x="161.2" y="988.6" font-size="35.5" fill="#000" text-anchor="end">1.0</text>
<text x="161.2" y="1058.6" font-size="35.5" fill="#000" text-anchor="end">0.5</text>
<text x="161.2" y="1130.0" font-size="35.5" fill="#000" text-anchor="end">0.0</text>
<text transform="translate(99.4,1034.0) rotate(-90)" font-size="34.8" text-anchor="middle" fill="#000">Intensity (a.u.)</text>
<text x="502.9" y="1198.5" font-size="35.3" fill="#000"><tspan font-style="italic">x</tspan> (µm)</text>
<rect x="234.1" y="964.6" width="295.1" height="72.8" fill="#fff" stroke="none"/>
<line x1="360.2" y1="964.6" x2="360.2" y2="1037.4" stroke="#e4e4e4" stroke-width="1" stroke-dasharray="3.5 3.5"/>
<line x1="246.7" y1="1037.4" x2="246.7" y2="1032.9" stroke="#000" stroke-width="1.3" />
<line x1="246.7" y1="964.6" x2="246.7" y2="969.1" stroke="#000" stroke-width="1.3" />
<text x="246.7" y="1063.1" font-size="23.6" fill="#000" text-anchor="middle">15</text>
<line x1="310.9" y1="1037.4" x2="310.9" y2="1032.9" stroke="#000" stroke-width="1.3" />
<line x1="310.9" y1="964.6" x2="310.9" y2="969.1" stroke="#000" stroke-width="1.3" />
<text x="310.9" y="1063.1" font-size="23.6" fill="#000" text-anchor="middle">20</text>
<line x1="375.0" y1="1037.4" x2="375.0" y2="1032.9" stroke="#000" stroke-width="1.3" />
<line x1="375.0" y1="964.6" x2="375.0" y2="969.1" stroke="#000" stroke-width="1.3" />
<text x="375.0" y="1063.1" font-size="23.6" fill="#000" text-anchor="middle">25</text>
<line x1="439.1" y1="1037.4" x2="439.1" y2="1032.9" stroke="#000" stroke-width="1.3" />
<line x1="439.1" y1="964.6" x2="439.1" y2="969.1" stroke="#000" stroke-width="1.3" />
<text x="439.1" y="1063.1" font-size="23.6" fill="#000" text-anchor="middle">30</text>
<line x1="503.3" y1="1037.4" x2="503.3" y2="1032.9" stroke="#000" stroke-width="1.3" />
<line x1="503.3" y1="964.6" x2="503.3" y2="969.1" stroke="#000" stroke-width="1.3" />
<text x="503.3" y="1063.1" font-size="23.6" fill="#000" text-anchor="middle">35</text>
<line x1="234.1" y1="977.2" x2="238.6" y2="977.2" stroke="#000" stroke-width="1.3" />
<line x1="529.2" y1="977.2" x2="524.7" y2="977.2" stroke="#000" stroke-width="1.3" />
<line x1="234.1" y1="1001.4" x2="237.1" y2="1001.4" stroke="#000" stroke-width="1.3" />
<line x1="529.2" y1="1001.4" x2="526.2" y2="1001.4" stroke="#000" stroke-width="1.3" />
<line x1="234.1" y1="1025.6" x2="238.6" y2="1025.6" stroke="#000" stroke-width="1.3" />
<line x1="529.2" y1="1025.6" x2="524.7" y2="1025.6" stroke="#000" stroke-width="1.3" />
<text x="227.2" y="983.3" font-size="23.6" fill="#000" text-anchor="end">1.0</text>
<text x="227.2" y="1032.3" font-size="23.6" fill="#000" text-anchor="end">0.6</text>
<text transform="translate(196.3,1001.9) rotate(-90)" font-size="23" text-anchor="middle" style='font-family:"DejaVu Math TeX Gyre","DejaVu Sans",sans-serif' fill="#000" stroke="#000" stroke-width="0.3">ℱ</text>
<text x="375.5" y="1090.6" font-size="24.2" fill="#000" text-anchor="middle">Number of waveguides</text>
<rect x="234.1" y="964.6" width="295.1" height="72.8" fill="none" stroke="#000" stroke-width="1.5"/>
<polyline points="258.6,977.6 310.2,977.5 362.0,978.4 413.3,977.9 464.3,980.2 515.5,985.9" fill="none" stroke="#5b94c8" stroke-width="1.3"/>
<circle cx="258.6" cy="977.6" r="4.7" fill="url(#ballB)"/>
<circle cx="310.2" cy="977.5" r="4.7" fill="url(#ballB)"/>
<circle cx="362.0" cy="978.4" r="4.7" fill="url(#ballB)"/>
<circle cx="413.3" cy="977.9" r="4.7" fill="url(#ballB)"/>
<circle cx="464.3" cy="980.2" r="4.7" fill="url(#ballB)"/>
<circle cx="515.5" cy="985.9" r="4.7" fill="url(#ballB)"/>
<rect x="506.6" y="976.5" width="18.4" height="18.7" fill="none" stroke="#595757" stroke-width="1.6" stroke-dasharray="5.89 6.62 5.89 0" />
<line x1="525.0" y1="976.5" x2="586.2" y2="959.2" stroke="#595757" stroke-width="1.8" stroke-dasharray="10.5 6.5"/>
<line x1="525.0" y1="995.2" x2="586.2" y2="1099.1" stroke="#595757" stroke-width="1.8" stroke-dasharray="10.5 6.5"/>
<clipPath id="ci2"><rect x="586.2" y="959.2" width="98.6" height="139.9"/></clipPath>
<rect x="586.2" y="959.2" width="98.6" height="139.9" fill="#0e0006"/>
<g clip-path="url(#ci2)">
<ellipse cx="636.2" cy="1031.2" rx="22" ry="30" fill="#8a1418" opacity="0.38" filter="url(#b3)"/>
<linearGradient id="fv2" gradientUnits="userSpaceOnUse" x1="0" y1="959.2" x2="0" y2="1099.1"><stop offset="0" stop-color="#d42a22" stop-opacity="0.15"/><stop offset="0.2" stop-color="#d42a22" stop-opacity="0.45"/><stop offset="0.4" stop-color="#dc2c22" stop-opacity="1"/><stop offset="0.65" stop-color="#dc2c22" stop-opacity="0.85"/><stop offset="0.8" stop-color="#d42a22" stop-opacity="0.4"/><stop offset="1" stop-color="#d42a22" stop-opacity="0.25"/></linearGradient>
<g filter="url(#b1)">
<path d="M602.2,965.1 C608.7,979.1 610.7,989.1 610.7,1054.2 C610.7,1074.2 610.7,1083.2 605.5,1099.1" fill="none" stroke="url(#fv2)" stroke-width="1.1" opacity="0.94"/>
<path d="M605.8,968.0 C611.8,982.0 613.8,992.0 613.8,1054.2 C613.8,1074.2 613.8,1083.2 609.3,1099.1" fill="none" stroke="url(#fv2)" stroke-width="1.1" opacity="0.81"/>
<path d="M609.3,970.9 C614.8,984.9 616.8,994.9 616.8,1054.2 C616.8,1074.2 616.8,1083.2 613.1,1099.1" fill="none" stroke="url(#fv2)" stroke-width="1.1" opacity="0.62"/>
<path d="M612.8,973.8 C617.8,987.8 619.8,997.8 619.8,1054.2 C619.8,1074.2 619.8,1083.2 616.9,1099.1" fill="none" stroke="url(#fv2)" stroke-width="1.1" opacity="0.65"/>
<path d="M616.3,976.6 C620.8,990.6 622.8,1000.6 622.8,1054.2 C622.8,1074.2 622.8,1083.2 620.7,1099.1" fill="none" stroke="url(#fv2)" stroke-width="1.1" opacity="0.69"/>
<path d="M619.9,979.5 C623.9,993.5 625.9,1003.5 625.9,1054.2 C625.9,1074.2 625.9,1083.2 624.5,1099.1" fill="none" stroke="url(#fv2)" stroke-width="1.1" opacity="0.72"/>
<path d="M623.4,982.4 C626.9,996.4 628.9,1006.4 628.9,1054.2 C628.9,1074.2 628.9,1083.2 628.3,1099.1" fill="none" stroke="url(#fv2)" stroke-width="1.1" opacity="0.76"/>
<path d="M626.9,985.3 C629.9,999.3 631.9,1009.3 631.9,1054.2 C631.9,1074.2 631.9,1083.2 632.1,1099.1" fill="none" stroke="url(#fv2)" stroke-width="1.1" opacity="0.76"/>
<path d="M630.5,988.2 C633.0,1002.2 635.0,1012.2 635.0,1054.2 C635.0,1074.2 635.0,1083.2 636.0,1099.1" fill="none" stroke="url(#fv2)" stroke-width="1.1" opacity="0.72"/>
<path d="M634.0,991.1 C636.0,1005.1 638.0,1015.1 638.0,1054.2 C638.0,1074.2 638.0,1083.2 639.8,1099.1" fill="none" stroke="url(#fv2)" stroke-width="1.1" opacity="0.69"/>
<path d="M637.5,994.0 C639.0,1008.0 641.0,1018.0 641.0,1054.2 C641.0,1074.2 641.0,1083.2 643.6,1099.1" fill="none" stroke="url(#fv2)" stroke-width="1.1" opacity="0.66"/>
<path d="M641.0,996.9 C642.0,1010.9 644.0,1020.9 644.0,1054.2 C644.0,1074.2 644.0,1083.2 647.4,1099.1" fill="none" stroke="url(#fv2)" stroke-width="1.1" opacity="0.62"/>
<path d="M644.6,999.8 C645.1,1013.8 647.1,1023.8 647.1,1054.2 C647.1,1074.2 647.1,1083.2 651.2,1099.1" fill="none" stroke="url(#fv2)" stroke-width="1.1" opacity="0.59"/>
<path d="M648.1,1002.6 C648.1,1016.6 650.1,1026.6 650.1,1054.2 C650.1,1074.2 650.1,1083.2 655.0,1099.1" fill="none" stroke="url(#fv2)" stroke-width="1.1" opacity="0.55"/>
<path d="M651.6,1005.5 C651.1,1019.5 653.1,1029.5 653.1,1054.2 C653.1,1074.2 653.1,1083.2 658.8,1099.1" fill="none" stroke="url(#fv2)" stroke-width="1.1" opacity="0.52"/>
<path d="M655.1,1008.4 C654.1,1022.4 656.1,1032.4 656.1,1054.2 C656.1,1074.2 656.1,1083.2 662.6,1099.1" fill="none" stroke="url(#fv2)" stroke-width="1.1" opacity="0.48"/>
<path d="M658.7,1011.3 C657.2,1025.3 659.2,1035.3 659.2,1054.2 C659.2,1074.2 659.2,1083.2 666.4,1099.1" fill="none" stroke="url(#fv2)" stroke-width="1.1" opacity="0.45"/>
<path d="M662.2,1014.2 C660.2,1028.2 662.2,1038.2 662.2,1054.2 C662.2,1074.2 662.2,1083.2 670.2,1099.1" fill="none" stroke="url(#fv2)" stroke-width="1.1" opacity="0.41"/>
</g>
<path d="M586.2,959.7 C598.2,961.2 599.2,969.2 602.2,981.2 S607.7,1007.2 607.7,1025.2" fill="none" stroke="url(#haloA)" stroke-width="2.2" opacity="0.85" filter="url(#b1)"/>
<path d="M586.2,959.7 C598.2,961.2 599.2,969.2 602.2,981.2 S607.5,1003.2 607.7,1013.2" fill="none" stroke="url(#hotA)" stroke-width="1.1"/>
<path d="M607.7,1021.2 C607.7,1069.2 602.2,1091.2 586.2,1099.1" fill="none" stroke="#c8261e" stroke-width="1.1" opacity="0.75" filter="url(#b1)"/>
<path d="M662.2,1023.2 C662.2,1055.2 667.2,1071.2 670.2,1085.2 S678.2,1097.2 684.8,1099.1" fill="none" stroke="url(#haloB)" stroke-width="2.2" opacity="0.85" filter="url(#b1)"/>
<path d="M662.8,1047.2 C663.7,1061.2 667.2,1071.2 670.2,1085.2 S678.2,1097.2 684.8,1099.1" fill="none" stroke="url(#hotB)" stroke-width="1.1"/>
</g>
<path d="M587.7,943.7 V951.2" stroke="#e8474c" stroke-width="1.7" fill="none"/>
<polygon points="584.0,950.0 591.4,950.0 587.7,956.2" fill="#e8474c"/>
<text x="1017.5" y="647.0" font-size="41" fill="#231815" font-weight="bold">ii</text>
<text x="1141.5" y="661.1" font-size="35.3" fill="#231815">SUAD  Exp.</text>
<text x="1069.8" y="693.8" font-size="35.3" fill="#231815" text-anchor="middle">1</text>
<rect x="1053.2" y="703.2" width="498.7" height="46.0" fill="#000" opacity="0.36" filter="url(#sh)"/>
<rect x="1053.2" y="702.7" width="498.7" height="46.0" fill="#2b4b75"/>
<rect x="1053.2" y="788.2" width="588.7" height="47.4" fill="#000" opacity="0.36" filter="url(#sh)"/>
<rect x="1053.2" y="787.7" width="588.7" height="47.4" fill="#2b4b75"/>
<rect x="1053.2" y="877.8" width="683.0" height="50.5" fill="#000" opacity="0.36" filter="url(#sh)"/>
<rect x="1053.2" y="877.3" width="683.0" height="50.5" fill="#2b4b75"/>
<rect x="1053.2" y="970.6" width="775.7" height="50.5" fill="#000" opacity="0.36" filter="url(#sh)"/>
<rect x="1053.2" y="970.1" width="775.7" height="50.5" fill="#2b4b75"/>
<rect x="1053.2" y="1057.6" width="867.7" height="51.9" fill="#000" opacity="0.36" filter="url(#sh)"/>
<rect x="1053.2" y="1057.1" width="867.7" height="51.9" fill="#2b4b75"/>
<circle cx="1528.6" cy="725.1" r="14.0" fill="url(#spot)"/>
<circle cx="1070.0" cy="729.1" r="10.4" fill="none" stroke="#fff100" stroke-width="1.7" stroke-dasharray="4.67 4.67" stroke-dashoffset="2.33" transform="rotate(-90 1070.0 729.1)"/>
<circle cx="1528.6" cy="725.1" r="10.4" fill="none" stroke="#ffffff" stroke-width="1.7" stroke-dasharray="4.67 4.67" stroke-dashoffset="2.33" transform="rotate(-90 1528.6 725.1)"/>
<text x="1530.9" y="693.6" font-size="35.3" fill="#231815" text-anchor="middle">20</text>
<circle cx="1620.6" cy="811.1" r="14.0" fill="url(#spot)"/>
<circle cx="1070.0" cy="818.2" r="9" fill="url(#glowC)"/>
<circle cx="1070.0" cy="818.2" r="10.4" fill="none" stroke="#fff100" stroke-width="1.7" stroke-dasharray="4.67 4.67" stroke-dashoffset="2.33" transform="rotate(-90 1070.0 818.2)"/>
<circle cx="1620.6" cy="811.1" r="10.4" fill="none" stroke="#ffffff" stroke-width="1.7" stroke-dasharray="4.67 4.67" stroke-dashoffset="2.33" transform="rotate(-90 1620.6 811.1)"/>
<text x="1621.7" y="780.1" font-size="35.3" fill="#231815" text-anchor="middle">24</text>
<circle cx="1712.6" cy="903.2" r="14.0" fill="url(#spot)"/>
<circle cx="1070.0" cy="910.2" r="9" fill="url(#glowC)"/>
<circle cx="1070.0" cy="910.2" r="10.4" fill="none" stroke="#fff100" stroke-width="1.7" stroke-dasharray="4.67 4.67" stroke-dashoffset="2.33" transform="rotate(-90 1070.0 910.2)"/>
<circle cx="1712.6" cy="903.2" r="10.4" fill="none" stroke="#ffffff" stroke-width="1.7" stroke-dasharray="4.67 4.67" stroke-dashoffset="2.33" transform="rotate(-90 1712.6 903.2)"/>
<text x="1714.9" y="868.7" font-size="35.3" fill="#231815" text-anchor="middle">28</text>
<circle cx="1805.0" cy="994.9" r="14.0" fill="url(#spot)"/>
<circle cx="1070.0" cy="1003.2" r="9" fill="url(#glowA)"/>
<circle cx="1070.0" cy="1003.2" r="10.4" fill="none" stroke="#fff100" stroke-width="1.7" stroke-dasharray="4.67 4.67" stroke-dashoffset="2.33" transform="rotate(-90 1070.0 1003.2)"/>
<circle cx="1805.0" cy="994.9" r="10.4" fill="none" stroke="#ffffff" stroke-width="1.7" stroke-dasharray="4.67 4.67" stroke-dashoffset="2.33" transform="rotate(-90 1805.0 994.9)"/>
<text x="1807.3" y="961.6" font-size="35.3" fill="#231815" text-anchor="middle">32</text>
<circle cx="1897.2" cy="1082.8" r="14.0" fill="url(#spot)"/>
<circle cx="1070.0" cy="1092.1" r="9" fill="url(#glowA)"/>
<circle cx="1070.0" cy="1092.1" r="10.4" fill="none" stroke="#fff100" stroke-width="1.7" stroke-dasharray="4.67 4.67" stroke-dashoffset="2.33" transform="rotate(-90 1070.0 1092.1)"/>
<circle cx="1897.2" cy="1082.8" r="10.4" fill="none" stroke="#ffffff" stroke-width="1.7" stroke-dasharray="4.67 4.67" stroke-dashoffset="2.33" transform="rotate(-90 1897.2 1082.8)"/>
<text x="1899.5" y="1047.9" font-size="35.3" fill="#231815" text-anchor="middle">36</text>
<text x="1869.3" y="742.1" font-size="35.3" fill="#231815" text-anchor="middle">Min</text>
<rect x="1863.1" y="755.9" width="12.8" height="108.9" fill="url(#cbar)" stroke="#231815" stroke-width="0.8"/>
<line x1="1870.2" y1="777.7" x2="1875.9" y2="777.7" stroke="#231815" stroke-width="0.8" />
<line x1="1870.2" y1="799.5" x2="1875.9" y2="799.5" stroke="#231815" stroke-width="0.8" />
<line x1="1870.2" y1="821.2" x2="1875.9" y2="821.2" stroke="#231815" stroke-width="0.8" />
<line x1="1870.2" y1="843.0" x2="1875.9" y2="843.0" stroke="#231815" stroke-width="0.8" />
<text x="1869.5" y="902.0" font-size="35.3" fill="#231815" text-anchor="middle">Max</text>
<rect x="1769.8" y="1134.2" width="45.9" height="6" fill="#231815"/>
<text x="1920.0" y="1145.7" font-size="35.3" fill="#231815" text-anchor="end">20 µm</text>
<path d="M1070,1143 H1114" stroke="#231815" stroke-width="2.3" fill="none"/>
<polygon points="1111.5,1137.8 1131.5,1143 1111.5,1148.2" fill="#231815"/>
<text x="1141.5" y="1151.2" font-size="35.3" fill="#231815" font-style="italic">x</text>
</svg>
</body></html>
